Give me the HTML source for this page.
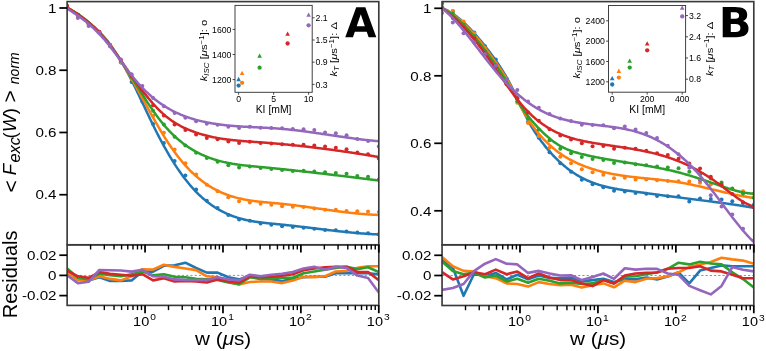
<!DOCTYPE html>
<html><head><meta charset="utf-8"><style>
html,body{margin:0;padding:0;background:#fff;}
svg{display:block;will-change:transform;}
text{font-family:"Liberation Sans", sans-serif;fill:#000;}
</style></head><body>
<svg width="766" height="351" viewBox="0 0 766 351">
<rect width="766" height="351" fill="#fff"/>
<clipPath id="cAm"><rect x="67.13" y="1.6" width="311.67" height="243.2"/></clipPath>
<clipPath id="cAr"><rect x="67.13" y="244.8" width="311.67" height="60.6"/></clipPath>
<g clip-path="url(#cAm)">
<circle cx="67.13" cy="6.64" r="2" fill="#1f77b4"/>
<circle cx="77.88" cy="15.85" r="2" fill="#1f77b4"/>
<circle cx="88.62" cy="24.04" r="2" fill="#1f77b4"/>
<circle cx="99.37" cy="32.57" r="2" fill="#1f77b4"/>
<circle cx="110.12" cy="46.22" r="2" fill="#1f77b4"/>
<circle cx="120.87" cy="62.47" r="2" fill="#1f77b4"/>
<circle cx="131.61" cy="81.94" r="2" fill="#1f77b4"/>
<circle cx="142.36" cy="101.41" r="2" fill="#1f77b4"/>
<circle cx="153.11" cy="123.97" r="2" fill="#1f77b4"/>
<circle cx="163.86" cy="142.93" r="2" fill="#1f77b4"/>
<circle cx="174.6" cy="160.88" r="2" fill="#1f77b4"/>
<circle cx="185.35" cy="175.41" r="2" fill="#1f77b4"/>
<circle cx="196.1" cy="189.51" r="2" fill="#1f77b4"/>
<circle cx="206.84" cy="200.68" r="2" fill="#1f77b4"/>
<circle cx="217.59" cy="208.08" r="2" fill="#1f77b4"/>
<circle cx="228.34" cy="214.95" r="2" fill="#1f77b4"/>
<circle cx="239.09" cy="219.4" r="2" fill="#1f77b4"/>
<circle cx="249.83" cy="220.85" r="2" fill="#1f77b4"/>
<circle cx="260.58" cy="223.49" r="2" fill="#1f77b4"/>
<circle cx="271.33" cy="224.82" r="2" fill="#1f77b4"/>
<circle cx="282.07" cy="226.36" r="2" fill="#1f77b4"/>
<circle cx="292.82" cy="226.89" r="2" fill="#1f77b4"/>
<circle cx="303.57" cy="227.63" r="2" fill="#1f77b4"/>
<circle cx="314.32" cy="228.75" r="2" fill="#1f77b4"/>
<circle cx="325.06" cy="230.06" r="2" fill="#1f77b4"/>
<circle cx="335.81" cy="230.24" r="2" fill="#1f77b4"/>
<circle cx="346.56" cy="231.39" r="2" fill="#1f77b4"/>
<circle cx="357.31" cy="232.4" r="2" fill="#1f77b4"/>
<circle cx="368.05" cy="233.21" r="2" fill="#1f77b4"/>
<circle cx="378.8" cy="234.14" r="2" fill="#1f77b4"/>
<path d="M67.13 7.5 L68.13 8.2 L69.13 8.88 L70.13 9.56 L71.13 10.24 L72.13 10.91 L73.13 11.58 L74.13 12.25 L75.13 12.92 L76.13 13.59 L77.13 14.27 L78.13 14.94 L79.13 15.62 L80.13 16.31 L81.13 17 L82.13 17.7 L83.13 18.41 L84.13 19.13 L85.13 19.86 L86.13 20.6 L87.13 21.35 L88.13 22.12 L89.13 22.9 L90.13 23.69 L91.13 24.51 L92.13 25.34 L93.13 26.19 L94.13 27.06 L95.13 27.95 L96.13 28.86 L97.13 29.8 L98.13 30.76 L99.13 31.74 L100.13 32.75 L101.13 33.79 L102.13 34.85 L103.13 35.95 L104.13 37.07 L105.13 38.23 L106.13 39.42 L107.13 40.64 L108.13 41.9 L109.13 43.19 L110.13 44.51 L111.13 45.87 L112.13 47.26 L113.13 48.68 L114.13 50.13 L115.13 51.62 L116.13 53.14 L117.13 54.69 L118.13 56.27 L119.13 57.88 L120.13 59.52 L121.13 61.19 L122.13 62.89 L123.13 64.61 L124.13 66.37 L125.13 68.16 L126.13 69.97 L127.13 71.81 L128.13 73.68 L129.13 75.58 L130.13 77.5 L131.13 79.45 L132.13 81.43 L133.13 83.42 L134.13 85.44 L135.13 87.47 L136.13 89.53 L137.13 91.59 L138.13 93.68 L139.13 95.77 L140.13 97.87 L141.13 99.98 L142.13 102.09 L143.13 104.21 L144.13 106.33 L145.13 108.45 L146.13 110.57 L147.13 112.68 L148.13 114.79 L149.13 116.89 L150.13 118.98 L151.13 121.06 L152.13 123.13 L153.13 125.18 L154.13 127.22 L155.13 129.23 L156.13 131.23 L157.13 133.2 L158.13 135.16 L159.13 137.08 L160.13 138.99 L161.13 140.87 L162.13 142.73 L163.13 144.57 L164.13 146.39 L165.13 148.18 L166.13 149.95 L167.13 151.69 L168.13 153.42 L169.13 155.12 L170.13 156.79 L171.13 158.44 L172.13 160.07 L173.13 161.68 L174.13 163.26 L175.13 164.81 L176.13 166.35 L177.13 167.85 L178.13 169.34 L179.13 170.8 L180.13 172.23 L181.13 173.65 L182.13 175.03 L183.13 176.39 L184.13 177.73 L185.13 179.04 L186.13 180.33 L187.13 181.59 L188.13 182.83 L189.13 184.04 L190.13 185.23 L191.13 186.39 L192.13 187.53 L193.13 188.64 L194.13 189.73 L195.13 190.79 L196.13 191.83 L197.13 192.84 L198.13 193.84 L199.13 194.81 L200.13 195.75 L201.13 196.68 L202.13 197.58 L203.13 198.46 L204.13 199.32 L205.13 200.16 L206.13 200.98 L207.13 201.77 L208.13 202.55 L209.13 203.3 L210.13 204.04 L211.13 204.76 L212.13 205.46 L213.13 206.14 L214.13 206.8 L215.13 207.44 L216.13 208.07 L217.13 208.67 L218.13 209.26 L219.13 209.84 L220.13 210.39 L221.13 210.93 L222.13 211.46 L223.13 211.96 L224.13 212.46 L225.13 212.93 L226.13 213.39 L227.13 213.84 L228.13 214.28 L229.13 214.69 L230.13 215.1 L231.13 215.49 L232.13 215.87 L233.13 216.24 L234.13 216.59 L235.13 216.93 L236.13 217.26 L237.13 217.58 L238.13 217.89 L239.13 218.18 L240.13 218.47 L241.13 218.74 L242.13 219 L243.13 219.26 L244.13 219.5 L245.13 219.74 L246.13 219.96 L247.13 220.18 L248.13 220.39 L249.13 220.59 L250.13 220.78 L251.13 220.97 L252.13 221.15 L253.13 221.32 L254.13 221.49 L255.13 221.64 L256.13 221.8 L257.13 221.94 L258.13 222.09 L259.13 222.22 L260.13 222.35 L261.13 222.48 L262.13 222.6 L263.13 222.72 L264.13 222.84 L265.13 222.95 L266.13 223.06 L267.13 223.17 L268.13 223.27 L269.13 223.37 L270.13 223.47 L271.13 223.57 L272.13 223.67 L273.13 223.76 L274.13 223.86 L275.13 223.95 L276.13 224.05 L277.13 224.14 L278.13 224.24 L279.13 224.34 L280.13 224.44 L281.13 224.53 L282.13 224.64 L283.13 224.74 L284.13 224.84 L285.13 224.94 L286.13 225.05 L287.13 225.16 L288.13 225.26 L289.13 225.37 L290.13 225.48 L291.13 225.59 L292.13 225.71 L293.13 225.82 L294.13 225.93 L295.13 226.05 L296.13 226.16 L297.13 226.28 L298.13 226.4 L299.13 226.51 L300.13 226.63 L301.13 226.75 L302.13 226.87 L303.13 226.99 L304.13 227.11 L305.13 227.23 L306.13 227.35 L307.13 227.47 L308.13 227.59 L309.13 227.71 L310.13 227.84 L311.13 227.96 L312.13 228.08 L313.13 228.2 L314.13 228.32 L315.13 228.45 L316.13 228.57 L317.13 228.69 L318.13 228.81 L319.13 228.94 L320.13 229.06 L321.13 229.18 L322.13 229.3 L323.13 229.42 L324.13 229.54 L325.13 229.66 L326.13 229.78 L327.13 229.9 L328.13 230.02 L329.13 230.14 L330.13 230.26 L331.13 230.37 L332.13 230.49 L333.13 230.61 L334.13 230.72 L335.13 230.84 L336.13 230.95 L337.13 231.06 L338.13 231.17 L339.13 231.28 L340.13 231.39 L341.13 231.5 L342.13 231.61 L343.13 231.72 L344.13 231.82 L345.13 231.93 L346.13 232.03 L347.13 232.13 L348.13 232.23 L349.13 232.33 L350.13 232.43 L351.13 232.52 L352.13 232.62 L353.13 232.71 L354.13 232.8 L355.13 232.89 L356.13 232.98 L357.13 233.07 L358.13 233.15 L359.13 233.23 L360.13 233.32 L361.13 233.4 L362.13 233.47 L363.13 233.55 L364.13 233.62 L365.13 233.69 L366.13 233.76 L367.13 233.83 L368.13 233.9 L369.13 233.96 L370.13 234.02 L371.13 234.08 L372.13 234.14 L373.13 234.19 L374.13 234.24 L375.13 234.29 L376.13 234.34 L377.13 234.38 L378.13 234.43" fill="none" stroke="#1f77b4" stroke-width="2.5" stroke-linejoin="round" stroke-linecap="round"/>
<circle cx="67.13" cy="6.74" r="2" fill="#ff7f0e"/>
<circle cx="77.88" cy="15.85" r="2" fill="#ff7f0e"/>
<circle cx="88.62" cy="23.99" r="2" fill="#ff7f0e"/>
<circle cx="99.37" cy="32.66" r="2" fill="#ff7f0e"/>
<circle cx="110.12" cy="46.17" r="2" fill="#ff7f0e"/>
<circle cx="120.87" cy="62.37" r="2" fill="#ff7f0e"/>
<circle cx="131.61" cy="79.09" r="2" fill="#ff7f0e"/>
<circle cx="142.36" cy="96.23" r="2" fill="#ff7f0e"/>
<circle cx="153.11" cy="115.81" r="2" fill="#ff7f0e"/>
<circle cx="163.86" cy="132.75" r="2" fill="#ff7f0e"/>
<circle cx="174.6" cy="149.46" r="2" fill="#ff7f0e"/>
<circle cx="185.35" cy="163.31" r="2" fill="#ff7f0e"/>
<circle cx="196.1" cy="174.53" r="2" fill="#ff7f0e"/>
<circle cx="206.84" cy="184.75" r="2" fill="#ff7f0e"/>
<circle cx="217.59" cy="191.3" r="2" fill="#ff7f0e"/>
<circle cx="228.34" cy="197.25" r="2" fill="#ff7f0e"/>
<circle cx="239.09" cy="201.18" r="2" fill="#ff7f0e"/>
<circle cx="249.83" cy="202.46" r="2" fill="#ff7f0e"/>
<circle cx="260.58" cy="203.68" r="2" fill="#ff7f0e"/>
<circle cx="271.33" cy="204.71" r="2" fill="#ff7f0e"/>
<circle cx="282.07" cy="206.22" r="2" fill="#ff7f0e"/>
<circle cx="292.82" cy="206.68" r="2" fill="#ff7f0e"/>
<circle cx="303.57" cy="206.88" r="2" fill="#ff7f0e"/>
<circle cx="314.32" cy="208.57" r="2" fill="#ff7f0e"/>
<circle cx="325.06" cy="209.76" r="2" fill="#ff7f0e"/>
<circle cx="335.81" cy="209.8" r="2" fill="#ff7f0e"/>
<circle cx="346.56" cy="210.97" r="2" fill="#ff7f0e"/>
<circle cx="357.31" cy="211.21" r="2" fill="#ff7f0e"/>
<circle cx="368.05" cy="211.58" r="2" fill="#ff7f0e"/>
<circle cx="378.8" cy="212.12" r="2" fill="#ff7f0e"/>
<path d="M67.13 7.6 L68.13 8.22 L69.13 8.83 L70.13 9.45 L71.13 10.08 L72.13 10.71 L73.13 11.34 L74.13 11.99 L75.13 12.64 L76.13 13.29 L77.13 13.96 L78.13 14.63 L79.13 15.32 L80.13 16.02 L81.13 16.72 L82.13 17.44 L83.13 18.17 L84.13 18.92 L85.13 19.68 L86.13 20.45 L87.13 21.24 L88.13 22.04 L89.13 22.86 L90.13 23.7 L91.13 24.56 L92.13 25.43 L93.13 26.33 L94.13 27.24 L95.13 28.17 L96.13 29.13 L97.13 30.11 L98.13 31.11 L99.13 32.13 L100.13 33.18 L101.13 34.25 L102.13 35.35 L103.13 36.47 L104.13 37.62 L105.13 38.8 L106.13 40 L107.13 41.24 L108.13 42.5 L109.13 43.79 L110.13 45.11 L111.13 46.45 L112.13 47.83 L113.13 49.22 L114.13 50.65 L115.13 52.09 L116.13 53.56 L117.13 55.06 L118.13 56.57 L119.13 58.11 L120.13 59.67 L121.13 61.24 L122.13 62.84 L123.13 64.46 L124.13 66.09 L125.13 67.74 L126.13 69.41 L127.13 71.09 L128.13 72.79 L129.13 74.5 L130.13 76.23 L131.13 77.97 L132.13 79.72 L133.13 81.48 L134.13 83.26 L135.13 85.04 L136.13 86.83 L137.13 88.63 L138.13 90.44 L139.13 92.25 L140.13 94.07 L141.13 95.89 L142.13 97.72 L143.13 99.55 L144.13 101.37 L145.13 103.2 L146.13 105.02 L147.13 106.85 L148.13 108.66 L149.13 110.48 L150.13 112.29 L151.13 114.09 L152.13 115.89 L153.13 117.67 L154.13 119.45 L155.13 121.21 L156.13 122.97 L157.13 124.71 L158.13 126.44 L159.13 128.15 L160.13 129.85 L161.13 131.53 L162.13 133.19 L163.13 134.83 L164.13 136.46 L165.13 138.06 L166.13 139.64 L167.13 141.2 L168.13 142.73 L169.13 144.24 L170.13 145.73 L171.13 147.19 L172.13 148.63 L173.13 150.04 L174.13 151.43 L175.13 152.8 L176.13 154.15 L177.13 155.47 L178.13 156.76 L179.13 158.04 L180.13 159.29 L181.13 160.52 L182.13 161.72 L183.13 162.9 L184.13 164.06 L185.13 165.19 L186.13 166.31 L187.13 167.4 L188.13 168.46 L189.13 169.51 L190.13 170.53 L191.13 171.53 L192.13 172.5 L193.13 173.46 L194.13 174.39 L195.13 175.3 L196.13 176.19 L197.13 177.06 L198.13 177.91 L199.13 178.74 L200.13 179.55 L201.13 180.33 L202.13 181.1 L203.13 181.85 L204.13 182.58 L205.13 183.3 L206.13 183.99 L207.13 184.66 L208.13 185.32 L209.13 185.96 L210.13 186.58 L211.13 187.19 L212.13 187.78 L213.13 188.35 L214.13 188.91 L215.13 189.45 L216.13 189.97 L217.13 190.48 L218.13 190.97 L219.13 191.45 L220.13 191.92 L221.13 192.37 L222.13 192.81 L223.13 193.23 L224.13 193.64 L225.13 194.03 L226.13 194.42 L227.13 194.79 L228.13 195.15 L229.13 195.49 L230.13 195.83 L231.13 196.15 L232.13 196.46 L233.13 196.76 L234.13 197.05 L235.13 197.33 L236.13 197.6 L237.13 197.86 L238.13 198.11 L239.13 198.35 L240.13 198.58 L241.13 198.81 L242.13 199.02 L243.13 199.23 L244.13 199.43 L245.13 199.62 L246.13 199.8 L247.13 199.98 L248.13 200.15 L249.13 200.31 L250.13 200.47 L251.13 200.62 L252.13 200.77 L253.13 200.91 L254.13 201.04 L255.13 201.17 L256.13 201.3 L257.13 201.42 L258.13 201.53 L259.13 201.65 L260.13 201.76 L261.13 201.86 L262.13 201.97 L263.13 202.07 L264.13 202.17 L265.13 202.26 L266.13 202.36 L267.13 202.45 L268.13 202.54 L269.13 202.63 L270.13 202.72 L271.13 202.81 L272.13 202.9 L273.13 202.99 L274.13 203.08 L275.13 203.17 L276.13 203.27 L277.13 203.36 L278.13 203.45 L279.13 203.55 L280.13 203.65 L281.13 203.75 L282.13 203.85 L283.13 203.96 L284.13 204.06 L285.13 204.17 L286.13 204.28 L287.13 204.4 L288.13 204.51 L289.13 204.63 L290.13 204.75 L291.13 204.87 L292.13 204.99 L293.13 205.11 L294.13 205.24 L295.13 205.36 L296.13 205.49 L297.13 205.62 L298.13 205.75 L299.13 205.88 L300.13 206.01 L301.13 206.15 L302.13 206.28 L303.13 206.42 L304.13 206.55 L305.13 206.69 L306.13 206.83 L307.13 206.97 L308.13 207.11 L309.13 207.25 L310.13 207.39 L311.13 207.53 L312.13 207.67 L313.13 207.81 L314.13 207.96 L315.13 208.1 L316.13 208.24 L317.13 208.38 L318.13 208.53 L319.13 208.67 L320.13 208.81 L321.13 208.96 L322.13 209.1 L323.13 209.24 L324.13 209.38 L325.13 209.52 L326.13 209.67 L327.13 209.81 L328.13 209.95 L329.13 210.09 L330.13 210.23 L331.13 210.36 L332.13 210.5 L333.13 210.64 L334.13 210.77 L335.13 210.91 L336.13 211.04 L337.13 211.17 L338.13 211.31 L339.13 211.44 L340.13 211.56 L341.13 211.69 L342.13 211.82 L343.13 211.94 L344.13 212.07 L345.13 212.19 L346.13 212.31 L347.13 212.43 L348.13 212.54 L349.13 212.66 L350.13 212.77 L351.13 212.88 L352.13 212.99 L353.13 213.1 L354.13 213.2 L355.13 213.31 L356.13 213.41 L357.13 213.51 L358.13 213.6 L359.13 213.7 L360.13 213.79 L361.13 213.88 L362.13 213.96 L363.13 214.04 L364.13 214.12 L365.13 214.2 L366.13 214.28 L367.13 214.35 L368.13 214.42 L369.13 214.49 L370.13 214.55 L371.13 214.61 L372.13 214.67 L373.13 214.72 L374.13 214.77 L375.13 214.82 L376.13 214.86 L377.13 214.9 L378.13 214.94" fill="none" stroke="#ff7f0e" stroke-width="2.5" stroke-linejoin="round" stroke-linecap="round"/>
<circle cx="67.13" cy="5.76" r="2" fill="#2ca02c"/>
<circle cx="77.88" cy="14.71" r="2" fill="#2ca02c"/>
<circle cx="88.62" cy="23.4" r="2" fill="#2ca02c"/>
<circle cx="99.37" cy="32.12" r="2" fill="#2ca02c"/>
<circle cx="110.12" cy="45.51" r="2" fill="#2ca02c"/>
<circle cx="120.87" cy="61.02" r="2" fill="#2ca02c"/>
<circle cx="131.61" cy="77.03" r="2" fill="#2ca02c"/>
<circle cx="142.36" cy="93.22" r="2" fill="#2ca02c"/>
<circle cx="153.11" cy="110.63" r="2" fill="#2ca02c"/>
<circle cx="163.86" cy="124.51" r="2" fill="#2ca02c"/>
<circle cx="174.6" cy="136.65" r="2" fill="#2ca02c"/>
<circle cx="185.35" cy="145.6" r="2" fill="#2ca02c"/>
<circle cx="196.1" cy="152.83" r="2" fill="#2ca02c"/>
<circle cx="206.84" cy="158.03" r="2" fill="#2ca02c"/>
<circle cx="217.59" cy="161.84" r="2" fill="#2ca02c"/>
<circle cx="228.34" cy="165.19" r="2" fill="#2ca02c"/>
<circle cx="239.09" cy="167.44" r="2" fill="#2ca02c"/>
<circle cx="249.83" cy="166.58" r="2" fill="#2ca02c"/>
<circle cx="260.58" cy="168.1" r="2" fill="#2ca02c"/>
<circle cx="271.33" cy="168.98" r="2" fill="#2ca02c"/>
<circle cx="282.07" cy="169.89" r="2" fill="#2ca02c"/>
<circle cx="292.82" cy="171.03" r="2" fill="#2ca02c"/>
<circle cx="303.57" cy="170.8" r="2" fill="#2ca02c"/>
<circle cx="314.32" cy="171.49" r="2" fill="#2ca02c"/>
<circle cx="325.06" cy="172.19" r="2" fill="#2ca02c"/>
<circle cx="335.81" cy="172.91" r="2" fill="#2ca02c"/>
<circle cx="346.56" cy="173.84" r="2" fill="#2ca02c"/>
<circle cx="357.31" cy="175.89" r="2" fill="#2ca02c"/>
<circle cx="368.05" cy="176.66" r="2" fill="#2ca02c"/>
<circle cx="378.8" cy="179.43" r="2" fill="#2ca02c"/>
<path d="M67.13 7.92 L68.13 8.39 L69.13 8.89 L70.13 9.4 L71.13 9.93 L72.13 10.48 L73.13 11.04 L74.13 11.63 L75.13 12.23 L76.13 12.85 L77.13 13.49 L78.13 14.14 L79.13 14.82 L80.13 15.51 L81.13 16.22 L82.13 16.95 L83.13 17.7 L84.13 18.47 L85.13 19.26 L86.13 20.07 L87.13 20.89 L88.13 21.74 L89.13 22.61 L90.13 23.49 L91.13 24.4 L92.13 25.33 L93.13 26.27 L94.13 27.24 L95.13 28.23 L96.13 29.24 L97.13 30.26 L98.13 31.31 L99.13 32.39 L100.13 33.48 L101.13 34.59 L102.13 35.73 L103.13 36.88 L104.13 38.06 L105.13 39.26 L106.13 40.48 L107.13 41.72 L108.13 42.99 L109.13 44.28 L110.13 45.58 L111.13 46.91 L112.13 48.26 L113.13 49.62 L114.13 51.01 L115.13 52.41 L116.13 53.82 L117.13 55.26 L118.13 56.71 L119.13 58.17 L120.13 59.65 L121.13 61.14 L122.13 62.64 L123.13 64.16 L124.13 65.69 L125.13 67.23 L126.13 68.77 L127.13 70.33 L128.13 71.9 L129.13 73.47 L130.13 75.05 L131.13 76.63 L132.13 78.22 L133.13 79.81 L134.13 81.4 L135.13 82.99 L136.13 84.59 L137.13 86.18 L138.13 87.77 L139.13 89.36 L140.13 90.94 L141.13 92.52 L142.13 94.09 L143.13 95.66 L144.13 97.22 L145.13 98.77 L146.13 100.31 L147.13 101.83 L148.13 103.35 L149.13 104.86 L150.13 106.35 L151.13 107.82 L152.13 109.28 L153.13 110.72 L154.13 112.15 L155.13 113.56 L156.13 114.94 L157.13 116.31 L158.13 117.65 L159.13 118.97 L160.13 120.27 L161.13 121.54 L162.13 122.79 L163.13 124.01 L164.13 125.2 L165.13 126.37 L166.13 127.52 L167.13 128.63 L168.13 129.72 L169.13 130.79 L170.13 131.84 L171.13 132.86 L172.13 133.85 L173.13 134.83 L174.13 135.78 L175.13 136.71 L176.13 137.61 L177.13 138.5 L178.13 139.36 L179.13 140.21 L180.13 141.03 L181.13 141.84 L182.13 142.62 L183.13 143.39 L184.13 144.13 L185.13 144.86 L186.13 145.57 L187.13 146.26 L188.13 146.94 L189.13 147.6 L190.13 148.24 L191.13 148.87 L192.13 149.48 L193.13 150.08 L194.13 150.66 L195.13 151.22 L196.13 151.77 L197.13 152.31 L198.13 152.83 L199.13 153.33 L200.13 153.83 L201.13 154.31 L202.13 154.77 L203.13 155.23 L204.13 155.67 L205.13 156.09 L206.13 156.51 L207.13 156.91 L208.13 157.3 L209.13 157.68 L210.13 158.05 L211.13 158.41 L212.13 158.75 L213.13 159.09 L214.13 159.41 L215.13 159.72 L216.13 160.03 L217.13 160.32 L218.13 160.6 L219.13 160.88 L220.13 161.14 L221.13 161.4 L222.13 161.65 L223.13 161.89 L224.13 162.12 L225.13 162.34 L226.13 162.56 L227.13 162.77 L228.13 162.97 L229.13 163.16 L230.13 163.35 L231.13 163.53 L232.13 163.7 L233.13 163.87 L234.13 164.03 L235.13 164.19 L236.13 164.34 L237.13 164.49 L238.13 164.63 L239.13 164.76 L240.13 164.9 L241.13 165.02 L242.13 165.15 L243.13 165.27 L244.13 165.38 L245.13 165.5 L246.13 165.61 L247.13 165.72 L248.13 165.82 L249.13 165.93 L250.13 166.03 L251.13 166.13 L252.13 166.22 L253.13 166.32 L254.13 166.41 L255.13 166.51 L256.13 166.6 L257.13 166.7 L258.13 166.79 L259.13 166.88 L260.13 166.98 L261.13 167.07 L262.13 167.16 L263.13 167.26 L264.13 167.35 L265.13 167.45 L266.13 167.55 L267.13 167.64 L268.13 167.74 L269.13 167.84 L270.13 167.94 L271.13 168.04 L272.13 168.14 L273.13 168.24 L274.13 168.34 L275.13 168.44 L276.13 168.54 L277.13 168.64 L278.13 168.74 L279.13 168.84 L280.13 168.95 L281.13 169.05 L282.13 169.16 L283.13 169.26 L284.13 169.36 L285.13 169.47 L286.13 169.57 L287.13 169.68 L288.13 169.79 L289.13 169.89 L290.13 170 L291.13 170.11 L292.13 170.22 L293.13 170.32 L294.13 170.43 L295.13 170.54 L296.13 170.65 L297.13 170.76 L298.13 170.87 L299.13 170.98 L300.13 171.09 L301.13 171.2 L302.13 171.31 L303.13 171.43 L304.13 171.54 L305.13 171.65 L306.13 171.76 L307.13 171.87 L308.13 171.99 L309.13 172.1 L310.13 172.22 L311.13 172.33 L312.13 172.44 L313.13 172.56 L314.13 172.67 L315.13 172.79 L316.13 172.9 L317.13 173.02 L318.13 173.14 L319.13 173.25 L320.13 173.37 L321.13 173.49 L322.13 173.6 L323.13 173.72 L324.13 173.84 L325.13 173.96 L326.13 174.07 L327.13 174.19 L328.13 174.31 L329.13 174.43 L330.13 174.55 L331.13 174.67 L332.13 174.78 L333.13 174.9 L334.13 175.02 L335.13 175.14 L336.13 175.26 L337.13 175.38 L338.13 175.5 L339.13 175.62 L340.13 175.74 L341.13 175.87 L342.13 175.99 L343.13 176.11 L344.13 176.23 L345.13 176.35 L346.13 176.47 L347.13 176.59 L348.13 176.71 L349.13 176.84 L350.13 176.96 L351.13 177.08 L352.13 177.2 L353.13 177.32 L354.13 177.45 L355.13 177.57 L356.13 177.69 L357.13 177.81 L358.13 177.94 L359.13 178.06 L360.13 178.18 L361.13 178.3 L362.13 178.43 L363.13 178.55 L364.13 178.67 L365.13 178.8 L366.13 178.92 L367.13 179.04 L368.13 179.17 L369.13 179.29 L370.13 179.41 L371.13 179.53 L372.13 179.66 L373.13 179.78 L374.13 179.9 L375.13 180.03 L376.13 180.15 L377.13 180.27 L378.13 180.4" fill="none" stroke="#2ca02c" stroke-width="2.5" stroke-linejoin="round" stroke-linecap="round"/>
<circle cx="67.13" cy="6.05" r="2" fill="#d62728"/>
<circle cx="77.88" cy="14.65" r="2" fill="#d62728"/>
<circle cx="88.62" cy="23.3" r="2" fill="#d62728"/>
<circle cx="99.37" cy="31.71" r="2" fill="#d62728"/>
<circle cx="110.12" cy="44.94" r="2" fill="#d62728"/>
<circle cx="120.87" cy="60.27" r="2" fill="#d62728"/>
<circle cx="131.61" cy="76.07" r="2" fill="#d62728"/>
<circle cx="142.36" cy="90.23" r="2" fill="#d62728"/>
<circle cx="153.11" cy="105.23" r="2" fill="#d62728"/>
<circle cx="163.86" cy="115.4" r="2" fill="#d62728"/>
<circle cx="174.6" cy="124.43" r="2" fill="#d62728"/>
<circle cx="185.35" cy="130.05" r="2" fill="#d62728"/>
<circle cx="196.1" cy="134.45" r="2" fill="#d62728"/>
<circle cx="206.84" cy="137.92" r="2" fill="#d62728"/>
<circle cx="217.59" cy="139.25" r="2" fill="#d62728"/>
<circle cx="228.34" cy="141.49" r="2" fill="#d62728"/>
<circle cx="239.09" cy="142.92" r="2" fill="#d62728"/>
<circle cx="249.83" cy="141.85" r="2" fill="#d62728"/>
<circle cx="260.58" cy="142.92" r="2" fill="#d62728"/>
<circle cx="271.33" cy="143.6" r="2" fill="#d62728"/>
<circle cx="282.07" cy="144.24" r="2" fill="#d62728"/>
<circle cx="292.82" cy="144.8" r="2" fill="#d62728"/>
<circle cx="303.57" cy="144.75" r="2" fill="#d62728"/>
<circle cx="314.32" cy="145.44" r="2" fill="#d62728"/>
<circle cx="325.06" cy="146.42" r="2" fill="#d62728"/>
<circle cx="335.81" cy="147.68" r="2" fill="#d62728"/>
<circle cx="346.56" cy="149.22" r="2" fill="#d62728"/>
<circle cx="357.31" cy="152.48" r="2" fill="#d62728"/>
<circle cx="368.05" cy="154.2" r="2" fill="#d62728"/>
<circle cx="378.8" cy="158.56" r="2" fill="#d62728"/>
<path d="M67.13 7.53 L68.13 8.13 L69.13 8.73 L70.13 9.34 L71.13 9.96 L72.13 10.58 L73.13 11.22 L74.13 11.86 L75.13 12.52 L76.13 13.18 L77.13 13.86 L78.13 14.54 L79.13 15.24 L80.13 15.95 L81.13 16.68 L82.13 17.42 L83.13 18.17 L84.13 18.93 L85.13 19.71 L86.13 20.51 L87.13 21.32 L88.13 22.15 L89.13 22.99 L90.13 23.85 L91.13 24.73 L92.13 25.63 L93.13 26.55 L94.13 27.49 L95.13 28.44 L96.13 29.42 L97.13 30.41 L98.13 31.43 L99.13 32.47 L100.13 33.54 L101.13 34.62 L102.13 35.73 L103.13 36.86 L104.13 38.02 L105.13 39.2 L106.13 40.41 L107.13 41.64 L108.13 42.9 L109.13 44.18 L110.13 45.48 L111.13 46.81 L112.13 48.15 L113.13 49.52 L114.13 50.9 L115.13 52.29 L116.13 53.7 L117.13 55.11 L118.13 56.54 L119.13 57.98 L120.13 59.42 L121.13 60.86 L122.13 62.31 L123.13 63.76 L124.13 65.21 L125.13 66.66 L126.13 68.11 L127.13 69.55 L128.13 70.99 L129.13 72.42 L130.13 73.84 L131.13 75.26 L132.13 76.68 L133.13 78.08 L134.13 79.48 L135.13 80.87 L136.13 82.25 L137.13 83.62 L138.13 84.98 L139.13 86.32 L140.13 87.66 L141.13 88.98 L142.13 90.3 L143.13 91.59 L144.13 92.88 L145.13 94.15 L146.13 95.4 L147.13 96.64 L148.13 97.87 L149.13 99.07 L150.13 100.26 L151.13 101.43 L152.13 102.58 L153.13 103.72 L154.13 104.83 L155.13 105.92 L156.13 106.99 L157.13 108.04 L158.13 109.07 L159.13 110.08 L160.13 111.06 L161.13 112.02 L162.13 112.95 L163.13 113.86 L164.13 114.74 L165.13 115.6 L166.13 116.43 L167.13 117.24 L168.13 118.02 L169.13 118.78 L170.13 119.52 L171.13 120.23 L172.13 120.92 L173.13 121.6 L174.13 122.25 L175.13 122.88 L176.13 123.49 L177.13 124.08 L178.13 124.66 L179.13 125.21 L180.13 125.76 L181.13 126.28 L182.13 126.79 L183.13 127.28 L184.13 127.76 L185.13 128.23 L186.13 128.68 L187.13 129.12 L188.13 129.54 L189.13 129.96 L190.13 130.37 L191.13 130.76 L192.13 131.14 L193.13 131.52 L194.13 131.88 L195.13 132.24 L196.13 132.58 L197.13 132.92 L198.13 133.25 L199.13 133.57 L200.13 133.87 L201.13 134.17 L202.13 134.47 L203.13 134.75 L204.13 135.03 L205.13 135.29 L206.13 135.55 L207.13 135.8 L208.13 136.05 L209.13 136.28 L210.13 136.51 L211.13 136.74 L212.13 136.95 L213.13 137.16 L214.13 137.36 L215.13 137.56 L216.13 137.75 L217.13 137.93 L218.13 138.11 L219.13 138.28 L220.13 138.44 L221.13 138.61 L222.13 138.76 L223.13 138.91 L224.13 139.05 L225.13 139.19 L226.13 139.33 L227.13 139.46 L228.13 139.59 L229.13 139.71 L230.13 139.83 L231.13 139.94 L232.13 140.05 L233.13 140.16 L234.13 140.26 L235.13 140.36 L236.13 140.46 L237.13 140.56 L238.13 140.65 L239.13 140.74 L240.13 140.82 L241.13 140.91 L242.13 140.99 L243.13 141.07 L244.13 141.15 L245.13 141.23 L246.13 141.3 L247.13 141.38 L248.13 141.45 L249.13 141.52 L250.13 141.6 L251.13 141.67 L252.13 141.74 L253.13 141.81 L254.13 141.88 L255.13 141.95 L256.13 142.02 L257.13 142.09 L258.13 142.16 L259.13 142.23 L260.13 142.3 L261.13 142.37 L262.13 142.45 L263.13 142.52 L264.13 142.6 L265.13 142.68 L266.13 142.75 L267.13 142.83 L268.13 142.91 L269.13 142.99 L270.13 143.07 L271.13 143.16 L272.13 143.24 L273.13 143.32 L274.13 143.41 L275.13 143.5 L276.13 143.58 L277.13 143.67 L278.13 143.76 L279.13 143.85 L280.13 143.94 L281.13 144.03 L282.13 144.12 L283.13 144.22 L284.13 144.31 L285.13 144.41 L286.13 144.5 L287.13 144.6 L288.13 144.7 L289.13 144.8 L290.13 144.9 L291.13 145 L292.13 145.1 L293.13 145.2 L294.13 145.3 L295.13 145.41 L296.13 145.51 L297.13 145.62 L298.13 145.72 L299.13 145.83 L300.13 145.94 L301.13 146.05 L302.13 146.16 L303.13 146.27 L304.13 146.38 L305.13 146.5 L306.13 146.61 L307.13 146.72 L308.13 146.84 L309.13 146.95 L310.13 147.07 L311.13 147.19 L312.13 147.31 L313.13 147.43 L314.13 147.55 L315.13 147.67 L316.13 147.79 L317.13 147.91 L318.13 148.04 L319.13 148.16 L320.13 148.29 L321.13 148.41 L322.13 148.54 L323.13 148.67 L324.13 148.8 L325.13 148.93 L326.13 149.06 L327.13 149.19 L328.13 149.32 L329.13 149.45 L330.13 149.59 L331.13 149.72 L332.13 149.86 L333.13 149.99 L334.13 150.13 L335.13 150.27 L336.13 150.41 L337.13 150.55 L338.13 150.69 L339.13 150.83 L340.13 150.97 L341.13 151.11 L342.13 151.26 L343.13 151.4 L344.13 151.55 L345.13 151.69 L346.13 151.84 L347.13 151.99 L348.13 152.13 L349.13 152.28 L350.13 152.43 L351.13 152.58 L352.13 152.73 L353.13 152.89 L354.13 153.04 L355.13 153.19 L356.13 153.35 L357.13 153.5 L358.13 153.66 L359.13 153.81 L360.13 153.97 L361.13 154.13 L362.13 154.29 L363.13 154.45 L364.13 154.61 L365.13 154.77 L366.13 154.93 L367.13 155.1 L368.13 155.26 L369.13 155.42 L370.13 155.59 L371.13 155.76 L372.13 155.92 L373.13 156.09 L374.13 156.26 L375.13 156.43 L376.13 156.6 L377.13 156.77 L378.13 156.94" fill="none" stroke="#d62728" stroke-width="2.5" stroke-linejoin="round" stroke-linecap="round"/>
<circle cx="67.13" cy="8.58" r="2" fill="#9467bd"/>
<circle cx="77.88" cy="18.02" r="2" fill="#9467bd"/>
<circle cx="88.62" cy="25.92" r="2" fill="#9467bd"/>
<circle cx="99.37" cy="32.41" r="2" fill="#9467bd"/>
<circle cx="110.12" cy="44.99" r="2" fill="#9467bd"/>
<circle cx="120.87" cy="59.5" r="2" fill="#9467bd"/>
<circle cx="131.61" cy="74.24" r="2" fill="#9467bd"/>
<circle cx="142.36" cy="86.06" r="2" fill="#9467bd"/>
<circle cx="153.11" cy="98.06" r="2" fill="#9467bd"/>
<circle cx="163.86" cy="106.13" r="2" fill="#9467bd"/>
<circle cx="174.6" cy="113.05" r="2" fill="#9467bd"/>
<circle cx="185.35" cy="117.83" r="2" fill="#9467bd"/>
<circle cx="196.1" cy="121.32" r="2" fill="#9467bd"/>
<circle cx="206.84" cy="123.78" r="2" fill="#9467bd"/>
<circle cx="217.59" cy="124.8" r="2" fill="#9467bd"/>
<circle cx="228.34" cy="126.72" r="2" fill="#9467bd"/>
<circle cx="239.09" cy="127.91" r="2" fill="#9467bd"/>
<circle cx="249.83" cy="126.78" r="2" fill="#9467bd"/>
<circle cx="260.58" cy="127.81" r="2" fill="#9467bd"/>
<circle cx="271.33" cy="127.9" r="2" fill="#9467bd"/>
<circle cx="282.07" cy="128.37" r="2" fill="#9467bd"/>
<circle cx="292.82" cy="128.92" r="2" fill="#9467bd"/>
<circle cx="303.57" cy="129.15" r="2" fill="#9467bd"/>
<circle cx="314.32" cy="130.07" r="2" fill="#9467bd"/>
<circle cx="325.06" cy="132.56" r="2" fill="#9467bd"/>
<circle cx="335.81" cy="133.24" r="2" fill="#9467bd"/>
<circle cx="346.56" cy="135.17" r="2" fill="#9467bd"/>
<circle cx="357.31" cy="138.99" r="2" fill="#9467bd"/>
<circle cx="368.05" cy="140.96" r="2" fill="#9467bd"/>
<circle cx="378.8" cy="146.5" r="2" fill="#9467bd"/>
<path d="M67.13 8.64 L68.13 9.25 L69.13 9.87 L70.13 10.5 L71.13 11.13 L72.13 11.78 L73.13 12.43 L74.13 13.09 L75.13 13.76 L76.13 14.44 L77.13 15.13 L78.13 15.83 L79.13 16.54 L80.13 17.27 L81.13 18 L82.13 18.75 L83.13 19.51 L84.13 20.29 L85.13 21.08 L86.13 21.88 L87.13 22.7 L88.13 23.53 L89.13 24.38 L90.13 25.24 L91.13 26.12 L92.13 27.02 L93.13 27.94 L94.13 28.87 L95.13 29.82 L96.13 30.79 L97.13 31.78 L98.13 32.79 L99.13 33.82 L100.13 34.87 L101.13 35.94 L102.13 37.03 L103.13 38.15 L104.13 39.28 L105.13 40.44 L106.13 41.62 L107.13 42.83 L108.13 44.05 L109.13 45.3 L110.13 46.58 L111.13 47.86 L112.13 49.17 L113.13 50.49 L114.13 51.82 L115.13 53.17 L116.13 54.52 L117.13 55.88 L118.13 57.25 L119.13 58.63 L120.13 60 L121.13 61.38 L122.13 62.75 L123.13 64.12 L124.13 65.49 L125.13 66.85 L126.13 68.21 L127.13 69.55 L128.13 70.88 L129.13 72.2 L130.13 73.5 L131.13 74.79 L132.13 76.06 L133.13 77.31 L134.13 78.53 L135.13 79.74 L136.13 80.92 L137.13 82.08 L138.13 83.21 L139.13 84.33 L140.13 85.42 L141.13 86.5 L142.13 87.55 L143.13 88.58 L144.13 89.59 L145.13 90.58 L146.13 91.55 L147.13 92.5 L148.13 93.43 L149.13 94.34 L150.13 95.24 L151.13 96.11 L152.13 96.97 L153.13 97.8 L154.13 98.62 L155.13 99.42 L156.13 100.21 L157.13 100.97 L158.13 101.72 L159.13 102.46 L160.13 103.17 L161.13 103.87 L162.13 104.55 L163.13 105.22 L164.13 105.87 L165.13 106.51 L166.13 107.13 L167.13 107.74 L168.13 108.33 L169.13 108.91 L170.13 109.47 L171.13 110.02 L172.13 110.55 L173.13 111.07 L174.13 111.58 L175.13 112.08 L176.13 112.56 L177.13 113.03 L178.13 113.48 L179.13 113.93 L180.13 114.36 L181.13 114.78 L182.13 115.19 L183.13 115.59 L184.13 115.98 L185.13 116.36 L186.13 116.73 L187.13 117.08 L188.13 117.43 L189.13 117.77 L190.13 118.1 L191.13 118.42 L192.13 118.73 L193.13 119.03 L194.13 119.32 L195.13 119.6 L196.13 119.88 L197.13 120.15 L198.13 120.41 L199.13 120.66 L200.13 120.91 L201.13 121.15 L202.13 121.38 L203.13 121.61 L204.13 121.83 L205.13 122.04 L206.13 122.25 L207.13 122.45 L208.13 122.64 L209.13 122.83 L210.13 123.02 L211.13 123.2 L212.13 123.37 L213.13 123.53 L214.13 123.7 L215.13 123.85 L216.13 124 L217.13 124.15 L218.13 124.29 L219.13 124.43 L220.13 124.56 L221.13 124.69 L222.13 124.81 L223.13 124.93 L224.13 125.05 L225.13 125.16 L226.13 125.27 L227.13 125.37 L228.13 125.47 L229.13 125.57 L230.13 125.66 L231.13 125.75 L232.13 125.84 L233.13 125.92 L234.13 126.01 L235.13 126.08 L236.13 126.16 L237.13 126.23 L238.13 126.3 L239.13 126.37 L240.13 126.44 L241.13 126.5 L242.13 126.57 L243.13 126.63 L244.13 126.69 L245.13 126.75 L246.13 126.8 L247.13 126.86 L248.13 126.91 L249.13 126.96 L250.13 127.02 L251.13 127.07 L252.13 127.12 L253.13 127.17 L254.13 127.22 L255.13 127.26 L256.13 127.31 L257.13 127.36 L258.13 127.41 L259.13 127.46 L260.13 127.51 L261.13 127.56 L262.13 127.61 L263.13 127.66 L264.13 127.71 L265.13 127.76 L266.13 127.82 L267.13 127.87 L268.13 127.93 L269.13 127.98 L270.13 128.04 L271.13 128.1 L272.13 128.16 L273.13 128.23 L274.13 128.29 L275.13 128.36 L276.13 128.43 L277.13 128.5 L278.13 128.57 L279.13 128.65 L280.13 128.73 L281.13 128.81 L282.13 128.9 L283.13 128.99 L284.13 129.08 L285.13 129.17 L286.13 129.27 L287.13 129.36 L288.13 129.46 L289.13 129.57 L290.13 129.67 L291.13 129.78 L292.13 129.89 L293.13 130 L294.13 130.11 L295.13 130.23 L296.13 130.34 L297.13 130.46 L298.13 130.58 L299.13 130.71 L300.13 130.83 L301.13 130.96 L302.13 131.09 L303.13 131.21 L304.13 131.35 L305.13 131.48 L306.13 131.61 L307.13 131.75 L308.13 131.88 L309.13 132.02 L310.13 132.16 L311.13 132.3 L312.13 132.44 L313.13 132.58 L314.13 132.72 L315.13 132.86 L316.13 133.01 L317.13 133.15 L318.13 133.3 L319.13 133.44 L320.13 133.59 L321.13 133.74 L322.13 133.89 L323.13 134.03 L324.13 134.18 L325.13 134.33 L326.13 134.48 L327.13 134.63 L328.13 134.78 L329.13 134.93 L330.13 135.08 L331.13 135.22 L332.13 135.37 L333.13 135.52 L334.13 135.67 L335.13 135.82 L336.13 135.97 L337.13 136.12 L338.13 136.26 L339.13 136.41 L340.13 136.56 L341.13 136.7 L342.13 136.85 L343.13 136.99 L344.13 137.13 L345.13 137.28 L346.13 137.42 L347.13 137.56 L348.13 137.7 L349.13 137.84 L350.13 137.98 L351.13 138.11 L352.13 138.25 L353.13 138.38 L354.13 138.51 L355.13 138.64 L356.13 138.77 L357.13 138.9 L358.13 139.03 L359.13 139.15 L360.13 139.28 L361.13 139.4 L362.13 139.52 L363.13 139.64 L364.13 139.75 L365.13 139.87 L366.13 139.98 L367.13 140.09 L368.13 140.2 L369.13 140.3 L370.13 140.41 L371.13 140.51 L372.13 140.61 L373.13 140.7 L374.13 140.8 L375.13 140.89 L376.13 140.98 L377.13 141.06 L378.13 141.15" fill="none" stroke="#9467bd" stroke-width="2.5" stroke-linejoin="round" stroke-linecap="round"/>
</g>
<g clip-path="url(#cAr)">
<line x1="67.13" y1="275.4" x2="378.8" y2="275.4" stroke="#808080" stroke-width="0.85" stroke-dasharray="2.2 2.05"/>
<path d="M67.13 272.6 L77.88 278.9 L88.62 280.4 L99.37 277.3 L110.12 281 L120.87 281 L131.61 280.4 L142.36 271.6 L153.11 271.6 L163.86 265.8 L174.6 265.3 L185.35 262.7 L196.1 268 L206.84 272.6 L217.59 272.6 L228.34 277.3 L239.09 279.4 L249.83 275.8 L260.58 278.9 L271.33 279.4 L282.07 281 L292.82 279 L303.57 277.3 L314.32 276.7 L325.06 276.7 L335.81 273.2 L346.56 273.2 L357.31 273.2 L368.05 273.2 L378.8 274.4" fill="none" stroke="#1f77b4" stroke-width="2.6" stroke-linejoin="round"/>
<path d="M67.13 272.6 L77.88 279.9 L88.62 280.4 L99.37 276.3 L110.12 278.9 L120.87 280.4 L131.61 276.3 L142.36 269.2 L153.11 269.5 L163.86 264.8 L174.6 266.9 L185.35 268.5 L196.1 270.1 L206.84 276.3 L217.59 277.3 L228.34 282 L239.09 284.6 L249.83 282 L260.58 281.5 L271.33 281.5 L282.07 283.1 L292.82 280.6 L303.57 276.7 L314.32 277.3 L325.06 276.2 L335.81 271.5 L346.56 270.9 L357.31 267.9 L368.05 266.2 L378.8 266.2" fill="none" stroke="#ff7f0e" stroke-width="2.6" stroke-linejoin="round"/>
<path d="M67.13 268.4 L77.88 277.8 L88.62 279.4 L99.37 273.7 L110.12 275.2 L120.87 276.3 L131.61 274.2 L142.36 271.4 L153.11 275.2 L163.86 274.2 L174.6 276.8 L185.35 277.3 L196.1 278.9 L206.84 279.4 L217.59 279.9 L228.34 282.5 L239.09 284.1 L249.83 277.3 L260.58 278.9 L271.33 278.4 L282.07 277.8 L292.82 277.8 L303.57 273.2 L314.32 271.5 L325.06 269.7 L335.81 267.9 L346.56 266.7 L357.31 269.1 L368.05 267.3 L378.8 272" fill="none" stroke="#2ca02c" stroke-width="2.6" stroke-linejoin="round"/>
<path d="M67.13 270.6 L77.88 276.3 L88.62 277.8 L99.37 272.1 L110.12 273.7 L120.87 274.7 L131.61 275.8 L142.36 274.2 L153.11 280.4 L163.86 278.3 L174.6 281.5 L185.35 281 L196.1 281.5 L206.84 282.5 L217.59 279.4 L228.34 281.5 L239.09 282.5 L249.83 276.3 L260.58 277.3 L271.33 276.8 L282.07 275.8 L292.82 274.2 L303.57 270.3 L314.32 268.5 L325.06 267.3 L335.81 266.7 L346.56 266.7 L357.31 272 L368.05 272 L378.8 280.3" fill="none" stroke="#d62728" stroke-width="2.6" stroke-linejoin="round"/>
<path d="M67.13 275.2 L77.88 283.1 L88.62 281.8 L99.37 270 L110.12 270.3 L120.87 270.5 L131.61 271.6 L142.36 269.8 L153.11 276.3 L163.86 276.8 L174.6 279.4 L185.35 279.9 L196.1 280.1 L206.84 279.9 L217.59 277.3 L228.34 279.4 L239.09 280.4 L249.83 274.7 L260.58 276.3 L271.33 274.7 L282.07 273.7 L292.82 272 L303.57 268.5 L314.32 266.7 L325.06 269.7 L335.81 266.7 L346.56 267.9 L357.31 275.6 L368.05 277.9 L378.8 292.6" fill="none" stroke="#9467bd" stroke-width="2.6" stroke-linejoin="round"/>
</g>
<rect x="67.13" y="1.6" width="311.67" height="243.2" fill="none" stroke="#3a3a3a" stroke-width="1.65"/>
<rect x="67.13" y="244.8" width="311.67" height="60.6" fill="none" stroke="#3a3a3a" stroke-width="1.65"/>
<line x1="90.59" y1="244.8" x2="90.59" y2="249.5" stroke="#000" stroke-width="1.4"/>
<line x1="104.31" y1="244.8" x2="104.31" y2="249.5" stroke="#000" stroke-width="1.4"/>
<line x1="114.04" y1="244.8" x2="114.04" y2="249.5" stroke="#000" stroke-width="1.4"/>
<line x1="121.59" y1="244.8" x2="121.59" y2="249.5" stroke="#000" stroke-width="1.4"/>
<line x1="127.76" y1="244.8" x2="127.76" y2="249.5" stroke="#000" stroke-width="1.4"/>
<line x1="132.98" y1="244.8" x2="132.98" y2="249.5" stroke="#000" stroke-width="1.4"/>
<line x1="137.5" y1="244.8" x2="137.5" y2="249.5" stroke="#000" stroke-width="1.4"/>
<line x1="141.48" y1="244.8" x2="141.48" y2="249.5" stroke="#000" stroke-width="1.4"/>
<line x1="145.05" y1="244.8" x2="145.05" y2="252.6" stroke="#000" stroke-width="1.75"/>
<line x1="168.5" y1="244.8" x2="168.5" y2="249.5" stroke="#000" stroke-width="1.4"/>
<line x1="182.22" y1="244.8" x2="182.22" y2="249.5" stroke="#000" stroke-width="1.4"/>
<line x1="191.96" y1="244.8" x2="191.96" y2="249.5" stroke="#000" stroke-width="1.4"/>
<line x1="199.51" y1="244.8" x2="199.51" y2="249.5" stroke="#000" stroke-width="1.4"/>
<line x1="205.68" y1="244.8" x2="205.68" y2="249.5" stroke="#000" stroke-width="1.4"/>
<line x1="210.9" y1="244.8" x2="210.9" y2="249.5" stroke="#000" stroke-width="1.4"/>
<line x1="215.41" y1="244.8" x2="215.41" y2="249.5" stroke="#000" stroke-width="1.4"/>
<line x1="219.4" y1="244.8" x2="219.4" y2="249.5" stroke="#000" stroke-width="1.4"/>
<line x1="222.97" y1="244.8" x2="222.97" y2="252.6" stroke="#000" stroke-width="1.75"/>
<line x1="246.42" y1="244.8" x2="246.42" y2="249.5" stroke="#000" stroke-width="1.4"/>
<line x1="260.14" y1="244.8" x2="260.14" y2="249.5" stroke="#000" stroke-width="1.4"/>
<line x1="269.88" y1="244.8" x2="269.88" y2="249.5" stroke="#000" stroke-width="1.4"/>
<line x1="277.43" y1="244.8" x2="277.43" y2="249.5" stroke="#000" stroke-width="1.4"/>
<line x1="283.6" y1="244.8" x2="283.6" y2="249.5" stroke="#000" stroke-width="1.4"/>
<line x1="288.81" y1="244.8" x2="288.81" y2="249.5" stroke="#000" stroke-width="1.4"/>
<line x1="293.33" y1="244.8" x2="293.33" y2="249.5" stroke="#000" stroke-width="1.4"/>
<line x1="297.32" y1="244.8" x2="297.32" y2="249.5" stroke="#000" stroke-width="1.4"/>
<line x1="300.88" y1="244.8" x2="300.88" y2="252.6" stroke="#000" stroke-width="1.75"/>
<line x1="324.34" y1="244.8" x2="324.34" y2="249.5" stroke="#000" stroke-width="1.4"/>
<line x1="338.06" y1="244.8" x2="338.06" y2="249.5" stroke="#000" stroke-width="1.4"/>
<line x1="347.79" y1="244.8" x2="347.79" y2="249.5" stroke="#000" stroke-width="1.4"/>
<line x1="355.34" y1="244.8" x2="355.34" y2="249.5" stroke="#000" stroke-width="1.4"/>
<line x1="361.51" y1="244.8" x2="361.51" y2="249.5" stroke="#000" stroke-width="1.4"/>
<line x1="366.73" y1="244.8" x2="366.73" y2="249.5" stroke="#000" stroke-width="1.4"/>
<line x1="371.25" y1="244.8" x2="371.25" y2="249.5" stroke="#000" stroke-width="1.4"/>
<line x1="375.23" y1="244.8" x2="375.23" y2="249.5" stroke="#000" stroke-width="1.4"/>
<line x1="378.8" y1="244.8" x2="378.8" y2="252.6" stroke="#000" stroke-width="1.75"/>
<line x1="90.59" y1="305.4" x2="90.59" y2="310.1" stroke="#000" stroke-width="1.4"/>
<line x1="104.31" y1="305.4" x2="104.31" y2="310.1" stroke="#000" stroke-width="1.4"/>
<line x1="114.04" y1="305.4" x2="114.04" y2="310.1" stroke="#000" stroke-width="1.4"/>
<line x1="121.59" y1="305.4" x2="121.59" y2="310.1" stroke="#000" stroke-width="1.4"/>
<line x1="127.76" y1="305.4" x2="127.76" y2="310.1" stroke="#000" stroke-width="1.4"/>
<line x1="132.98" y1="305.4" x2="132.98" y2="310.1" stroke="#000" stroke-width="1.4"/>
<line x1="137.5" y1="305.4" x2="137.5" y2="310.1" stroke="#000" stroke-width="1.4"/>
<line x1="141.48" y1="305.4" x2="141.48" y2="310.1" stroke="#000" stroke-width="1.4"/>
<line x1="145.05" y1="305.4" x2="145.05" y2="313.2" stroke="#000" stroke-width="1.75"/>
<line x1="168.5" y1="305.4" x2="168.5" y2="310.1" stroke="#000" stroke-width="1.4"/>
<line x1="182.22" y1="305.4" x2="182.22" y2="310.1" stroke="#000" stroke-width="1.4"/>
<line x1="191.96" y1="305.4" x2="191.96" y2="310.1" stroke="#000" stroke-width="1.4"/>
<line x1="199.51" y1="305.4" x2="199.51" y2="310.1" stroke="#000" stroke-width="1.4"/>
<line x1="205.68" y1="305.4" x2="205.68" y2="310.1" stroke="#000" stroke-width="1.4"/>
<line x1="210.9" y1="305.4" x2="210.9" y2="310.1" stroke="#000" stroke-width="1.4"/>
<line x1="215.41" y1="305.4" x2="215.41" y2="310.1" stroke="#000" stroke-width="1.4"/>
<line x1="219.4" y1="305.4" x2="219.4" y2="310.1" stroke="#000" stroke-width="1.4"/>
<line x1="222.97" y1="305.4" x2="222.97" y2="313.2" stroke="#000" stroke-width="1.75"/>
<line x1="246.42" y1="305.4" x2="246.42" y2="310.1" stroke="#000" stroke-width="1.4"/>
<line x1="260.14" y1="305.4" x2="260.14" y2="310.1" stroke="#000" stroke-width="1.4"/>
<line x1="269.88" y1="305.4" x2="269.88" y2="310.1" stroke="#000" stroke-width="1.4"/>
<line x1="277.43" y1="305.4" x2="277.43" y2="310.1" stroke="#000" stroke-width="1.4"/>
<line x1="283.6" y1="305.4" x2="283.6" y2="310.1" stroke="#000" stroke-width="1.4"/>
<line x1="288.81" y1="305.4" x2="288.81" y2="310.1" stroke="#000" stroke-width="1.4"/>
<line x1="293.33" y1="305.4" x2="293.33" y2="310.1" stroke="#000" stroke-width="1.4"/>
<line x1="297.32" y1="305.4" x2="297.32" y2="310.1" stroke="#000" stroke-width="1.4"/>
<line x1="300.88" y1="305.4" x2="300.88" y2="313.2" stroke="#000" stroke-width="1.75"/>
<line x1="324.34" y1="305.4" x2="324.34" y2="310.1" stroke="#000" stroke-width="1.4"/>
<line x1="338.06" y1="305.4" x2="338.06" y2="310.1" stroke="#000" stroke-width="1.4"/>
<line x1="347.79" y1="305.4" x2="347.79" y2="310.1" stroke="#000" stroke-width="1.4"/>
<line x1="355.34" y1="305.4" x2="355.34" y2="310.1" stroke="#000" stroke-width="1.4"/>
<line x1="361.51" y1="305.4" x2="361.51" y2="310.1" stroke="#000" stroke-width="1.4"/>
<line x1="366.73" y1="305.4" x2="366.73" y2="310.1" stroke="#000" stroke-width="1.4"/>
<line x1="371.25" y1="305.4" x2="371.25" y2="310.1" stroke="#000" stroke-width="1.4"/>
<line x1="375.23" y1="305.4" x2="375.23" y2="310.1" stroke="#000" stroke-width="1.4"/>
<line x1="378.8" y1="305.4" x2="378.8" y2="313.2" stroke="#000" stroke-width="1.75"/>
<line x1="59.33" y1="8" x2="67.13" y2="8" stroke="#000" stroke-width="1.75"/>
<text transform="translate(56.53,12.7) scale(1.15,1)" font-size="13.2" text-anchor="end">1</text>
<line x1="59.33" y1="70.24" x2="67.13" y2="70.24" stroke="#000" stroke-width="1.75"/>
<text transform="translate(56.53,74.94) scale(1.15,1)" font-size="13.2" text-anchor="end">0.8</text>
<line x1="59.33" y1="132.48" x2="67.13" y2="132.48" stroke="#000" stroke-width="1.75"/>
<text transform="translate(56.53,137.18) scale(1.15,1)" font-size="13.2" text-anchor="end">0.6</text>
<line x1="59.33" y1="194.72" x2="67.13" y2="194.72" stroke="#000" stroke-width="1.75"/>
<text transform="translate(56.53,199.42) scale(1.15,1)" font-size="13.2" text-anchor="end">0.4</text>
<line x1="59.33" y1="255.2" x2="67.13" y2="255.2" stroke="#000" stroke-width="1.75"/>
<text transform="translate(56.53,259.9) scale(1.15,1)" font-size="13.2" text-anchor="end">0.02</text>
<line x1="59.33" y1="275.4" x2="67.13" y2="275.4" stroke="#000" stroke-width="1.75"/>
<text transform="translate(56.53,280.1) scale(1.15,1)" font-size="13.2" text-anchor="end">0</text>
<line x1="59.33" y1="295.6" x2="67.13" y2="295.6" stroke="#000" stroke-width="1.75"/>
<text transform="translate(56.53,300.3) scale(1.15,1)" font-size="13.2" text-anchor="end">-0.02</text>
<text transform="translate(149.25,325.6) scale(1.1,1)" font-size="13.2" text-anchor="end">10</text>
<text transform="translate(150.25,320.4) scale(1.1,1)" font-size="9.3">0</text>
<text transform="translate(227.16,325.6) scale(1.1,1)" font-size="13.2" text-anchor="end">10</text>
<text transform="translate(228.16,320.4) scale(1.1,1)" font-size="9.3">1</text>
<text transform="translate(305.08,325.6) scale(1.1,1)" font-size="13.2" text-anchor="end">10</text>
<text transform="translate(306.08,320.4) scale(1.1,1)" font-size="9.3">2</text>
<text transform="translate(383,325.6) scale(1.1,1)" font-size="13.2" text-anchor="end">10</text>
<text transform="translate(384,320.4) scale(1.1,1)" font-size="9.3">3</text>
<text transform="translate(223.16,344.9) scale(1.09,1)" font-size="19" text-anchor="middle">w (<tspan font-style="italic">μ</tspan>s)</text>
<clipPath id="cBm"><rect x="442.05" y="1.6" width="311.75" height="243.2"/></clipPath>
<clipPath id="cBr"><rect x="442.05" y="244.8" width="311.75" height="60.7"/></clipPath>
<g clip-path="url(#cBm)">
<circle cx="442.05" cy="2.91" r="2" fill="#1f77b4"/>
<circle cx="452.8" cy="11.16" r="2" fill="#1f77b4"/>
<circle cx="463.55" cy="29.11" r="2" fill="#1f77b4"/>
<circle cx="474.3" cy="32.6" r="2" fill="#1f77b4"/>
<circle cx="485.05" cy="46.35" r="2" fill="#1f77b4"/>
<circle cx="495.8" cy="59.6" r="2" fill="#1f77b4"/>
<circle cx="506.55" cy="78.63" r="2" fill="#1f77b4"/>
<circle cx="517.3" cy="98.24" r="2" fill="#1f77b4"/>
<circle cx="528.05" cy="121.73" r="2" fill="#1f77b4"/>
<circle cx="538.8" cy="137.84" r="2" fill="#1f77b4"/>
<circle cx="549.55" cy="152.36" r="2" fill="#1f77b4"/>
<circle cx="560.3" cy="163.36" r="2" fill="#1f77b4"/>
<circle cx="571.05" cy="171.81" r="2" fill="#1f77b4"/>
<circle cx="581.8" cy="179.71" r="2" fill="#1f77b4"/>
<circle cx="592.55" cy="184.13" r="2" fill="#1f77b4"/>
<circle cx="603.3" cy="187.15" r="2" fill="#1f77b4"/>
<circle cx="614.05" cy="190.68" r="2" fill="#1f77b4"/>
<circle cx="624.8" cy="191.54" r="2" fill="#1f77b4"/>
<circle cx="635.55" cy="193.01" r="2" fill="#1f77b4"/>
<circle cx="646.3" cy="193.82" r="2" fill="#1f77b4"/>
<circle cx="657.05" cy="195.9" r="2" fill="#1f77b4"/>
<circle cx="667.8" cy="196.36" r="2" fill="#1f77b4"/>
<circle cx="678.55" cy="196.36" r="2" fill="#1f77b4"/>
<circle cx="689.3" cy="201.42" r="2" fill="#1f77b4"/>
<circle cx="700.05" cy="198.48" r="2" fill="#1f77b4"/>
<circle cx="710.8" cy="198.96" r="2" fill="#1f77b4"/>
<circle cx="721.55" cy="199.5" r="2" fill="#1f77b4"/>
<circle cx="732.3" cy="201.3" r="2" fill="#1f77b4"/>
<circle cx="743.05" cy="202.94" r="2" fill="#1f77b4"/>
<circle cx="753.8" cy="204.74" r="2" fill="#1f77b4"/>
<path d="M442.05 8.16 L443.05 8.55 L444.05 8.97 L445.05 9.41 L446.05 9.89 L447.05 10.39 L448.05 10.92 L449.05 11.48 L450.05 12.06 L451.05 12.67 L452.05 13.3 L453.05 13.96 L454.05 14.65 L455.05 15.36 L456.05 16.09 L457.05 16.85 L458.05 17.63 L459.05 18.44 L460.05 19.26 L461.05 20.11 L462.05 20.98 L463.05 21.88 L464.05 22.79 L465.05 23.72 L466.05 24.68 L467.05 25.65 L468.05 26.64 L469.05 27.66 L470.05 28.69 L471.05 29.74 L472.05 30.8 L473.05 31.89 L474.05 32.99 L475.05 34.11 L476.05 35.24 L477.05 36.39 L478.05 37.56 L479.05 38.74 L480.05 39.94 L481.05 41.15 L482.05 42.37 L483.05 43.61 L484.05 44.86 L485.05 46.12 L486.05 47.4 L487.05 48.68 L488.05 49.98 L489.05 51.29 L490.05 52.61 L491.05 53.95 L492.05 55.29 L493.05 56.65 L494.05 58.02 L495.05 59.41 L496.05 60.83 L497.05 62.26 L498.05 63.72 L499.05 65.2 L500.05 66.71 L501.05 68.25 L502.05 69.82 L503.05 71.42 L504.05 73.06 L505.05 74.74 L506.05 76.45 L507.05 78.21 L508.05 80 L509.05 81.84 L510.05 83.73 L511.05 85.66 L512.05 87.64 L513.05 89.65 L514.05 91.69 L515.05 93.76 L516.05 95.84 L517.05 97.94 L518.05 100.05 L519.05 102.16 L520.05 104.27 L521.05 106.37 L522.05 108.46 L523.05 110.53 L524.05 112.57 L525.05 114.59 L526.05 116.57 L527.05 118.52 L528.05 120.43 L529.05 122.28 L530.05 124.09 L531.05 125.84 L532.05 127.54 L533.05 129.18 L534.05 130.78 L535.05 132.34 L536.05 133.86 L537.05 135.33 L538.05 136.78 L539.05 138.19 L540.05 139.57 L541.05 140.93 L542.05 142.26 L543.05 143.57 L544.05 144.85 L545.05 146.11 L546.05 147.35 L547.05 148.56 L548.05 149.75 L549.05 150.91 L550.05 152.06 L551.05 153.18 L552.05 154.27 L553.05 155.35 L554.05 156.4 L555.05 157.43 L556.05 158.44 L557.05 159.42 L558.05 160.39 L559.05 161.34 L560.05 162.26 L561.05 163.16 L562.05 164.05 L563.05 164.91 L564.05 165.76 L565.05 166.58 L566.05 167.39 L567.05 168.18 L568.05 168.94 L569.05 169.69 L570.05 170.43 L571.05 171.14 L572.05 171.83 L573.05 172.51 L574.05 173.17 L575.05 173.82 L576.05 174.45 L577.05 175.06 L578.05 175.65 L579.05 176.23 L580.05 176.79 L581.05 177.34 L582.05 177.87 L583.05 178.39 L584.05 178.89 L585.05 179.38 L586.05 179.85 L587.05 180.31 L588.05 180.75 L589.05 181.18 L590.05 181.6 L591.05 182.01 L592.05 182.4 L593.05 182.78 L594.05 183.15 L595.05 183.51 L596.05 183.85 L597.05 184.19 L598.05 184.51 L599.05 184.83 L600.05 185.13 L601.05 185.42 L602.05 185.71 L603.05 185.98 L604.05 186.25 L605.05 186.51 L606.05 186.75 L607.05 186.99 L608.05 187.23 L609.05 187.45 L610.05 187.67 L611.05 187.88 L612.05 188.09 L613.05 188.28 L614.05 188.48 L615.05 188.66 L616.05 188.84 L617.05 189.02 L618.05 189.19 L619.05 189.36 L620.05 189.52 L621.05 189.68 L622.05 189.83 L623.05 189.98 L624.05 190.13 L625.05 190.28 L626.05 190.42 L627.05 190.56 L628.05 190.7 L629.05 190.83 L630.05 190.97 L631.05 191.1 L632.05 191.24 L633.05 191.37 L634.05 191.5 L635.05 191.64 L636.05 191.77 L637.05 191.91 L638.05 192.04 L639.05 192.17 L640.05 192.31 L641.05 192.44 L642.05 192.58 L643.05 192.71 L644.05 192.85 L645.05 192.98 L646.05 193.11 L647.05 193.25 L648.05 193.38 L649.05 193.52 L650.05 193.65 L651.05 193.79 L652.05 193.92 L653.05 194.06 L654.05 194.19 L655.05 194.33 L656.05 194.46 L657.05 194.6 L658.05 194.73 L659.05 194.86 L660.05 195 L661.05 195.13 L662.05 195.26 L663.05 195.4 L664.05 195.53 L665.05 195.66 L666.05 195.8 L667.05 195.93 L668.05 196.06 L669.05 196.19 L670.05 196.32 L671.05 196.46 L672.05 196.59 L673.05 196.72 L674.05 196.85 L675.05 196.98 L676.05 197.11 L677.05 197.23 L678.05 197.36 L679.05 197.49 L680.05 197.62 L681.05 197.75 L682.05 197.87 L683.05 198 L684.05 198.13 L685.05 198.25 L686.05 198.38 L687.05 198.5 L688.05 198.63 L689.05 198.75 L690.05 198.88 L691.05 199 L692.05 199.13 L693.05 199.25 L694.05 199.37 L695.05 199.5 L696.05 199.62 L697.05 199.75 L698.05 199.87 L699.05 199.99 L700.05 200.12 L701.05 200.24 L702.05 200.37 L703.05 200.49 L704.05 200.62 L705.05 200.74 L706.05 200.87 L707.05 200.99 L708.05 201.12 L709.05 201.25 L710.05 201.37 L711.05 201.5 L712.05 201.63 L713.05 201.76 L714.05 201.89 L715.05 202.02 L716.05 202.15 L717.05 202.28 L718.05 202.41 L719.05 202.54 L720.05 202.68 L721.05 202.81 L722.05 202.95 L723.05 203.08 L724.05 203.22 L725.05 203.35 L726.05 203.49 L727.05 203.63 L728.05 203.77 L729.05 203.91 L730.05 204.06 L731.05 204.2 L732.05 204.34 L733.05 204.49 L734.05 204.63 L735.05 204.78 L736.05 204.93 L737.05 205.08 L738.05 205.23 L739.05 205.39 L740.05 205.54 L741.05 205.7 L742.05 205.85 L743.05 206.01 L744.05 206.17 L745.05 206.33 L746.05 206.49 L747.05 206.66 L748.05 206.82 L749.05 206.99 L750.05 207.16 L751.05 207.33 L752.05 207.5 L753.05 207.68" fill="none" stroke="#1f77b4" stroke-width="2.5" stroke-linejoin="round" stroke-linecap="round"/>
<circle cx="442.05" cy="2.02" r="2" fill="#ff7f0e"/>
<circle cx="452.8" cy="11.09" r="2" fill="#ff7f0e"/>
<circle cx="463.55" cy="21.57" r="2" fill="#ff7f0e"/>
<circle cx="474.3" cy="33.18" r="2" fill="#ff7f0e"/>
<circle cx="485.05" cy="48.01" r="2" fill="#ff7f0e"/>
<circle cx="495.8" cy="63.37" r="2" fill="#ff7f0e"/>
<circle cx="506.55" cy="81.38" r="2" fill="#ff7f0e"/>
<circle cx="517.3" cy="102.65" r="2" fill="#ff7f0e"/>
<circle cx="528.05" cy="123" r="2" fill="#ff7f0e"/>
<circle cx="538.8" cy="135.94" r="2" fill="#ff7f0e"/>
<circle cx="549.55" cy="147.76" r="2" fill="#ff7f0e"/>
<circle cx="560.3" cy="156.84" r="2" fill="#ff7f0e"/>
<circle cx="571.05" cy="163.23" r="2" fill="#ff7f0e"/>
<circle cx="581.8" cy="169.2" r="2" fill="#ff7f0e"/>
<circle cx="592.55" cy="172.3" r="2" fill="#ff7f0e"/>
<circle cx="603.3" cy="174.63" r="2" fill="#ff7f0e"/>
<circle cx="614.05" cy="178.19" r="2" fill="#ff7f0e"/>
<circle cx="624.8" cy="177.69" r="2" fill="#ff7f0e"/>
<circle cx="635.55" cy="179.49" r="2" fill="#ff7f0e"/>
<circle cx="646.3" cy="179.51" r="2" fill="#ff7f0e"/>
<circle cx="657.05" cy="180.36" r="2" fill="#ff7f0e"/>
<circle cx="667.8" cy="181.05" r="2" fill="#ff7f0e"/>
<circle cx="678.55" cy="181.17" r="2" fill="#ff7f0e"/>
<circle cx="689.3" cy="181.4" r="2" fill="#ff7f0e"/>
<circle cx="700.05" cy="182.83" r="2" fill="#ff7f0e"/>
<circle cx="710.8" cy="184.55" r="2" fill="#ff7f0e"/>
<circle cx="721.55" cy="185.68" r="2" fill="#ff7f0e"/>
<circle cx="732.3" cy="188.69" r="2" fill="#ff7f0e"/>
<circle cx="743.05" cy="191.24" r="2" fill="#ff7f0e"/>
<circle cx="753.8" cy="193.99" r="2" fill="#ff7f0e"/>
<path d="M442.05 8.16 L443.05 8.58 L444.05 9.03 L445.05 9.51 L446.05 10.02 L447.05 10.56 L448.05 11.12 L449.05 11.71 L450.05 12.33 L451.05 12.97 L452.05 13.65 L453.05 14.34 L454.05 15.06 L455.05 15.81 L456.05 16.58 L457.05 17.38 L458.05 18.2 L459.05 19.04 L460.05 19.9 L461.05 20.79 L462.05 21.7 L463.05 22.63 L464.05 23.58 L465.05 24.56 L466.05 25.55 L467.05 26.57 L468.05 27.6 L469.05 28.65 L470.05 29.72 L471.05 30.81 L472.05 31.92 L473.05 33.05 L474.05 34.19 L475.05 35.35 L476.05 36.53 L477.05 37.72 L478.05 38.92 L479.05 40.15 L480.05 41.38 L481.05 42.64 L482.05 43.9 L483.05 45.18 L484.05 46.47 L485.05 47.78 L486.05 49.09 L487.05 50.42 L488.05 51.76 L489.05 53.11 L490.05 54.47 L491.05 55.85 L492.05 57.23 L493.05 58.62 L494.05 60.02 L495.05 61.44 L496.05 62.86 L497.05 64.3 L498.05 65.74 L499.05 67.19 L500.05 68.66 L501.05 70.14 L502.05 71.63 L503.05 73.15 L504.05 74.7 L505.05 76.28 L506.05 77.91 L507.05 79.58 L508.05 81.31 L509.05 83.11 L510.05 84.97 L511.05 86.9 L512.05 88.9 L513.05 90.94 L514.05 93.01 L515.05 95.1 L516.05 97.2 L517.05 99.29 L518.05 101.36 L519.05 103.39 L520.05 105.38 L521.05 107.31 L522.05 109.18 L523.05 110.99 L524.05 112.75 L525.05 114.46 L526.05 116.11 L527.05 117.72 L528.05 119.29 L529.05 120.81 L530.05 122.29 L531.05 123.73 L532.05 125.13 L533.05 126.5 L534.05 127.84 L535.05 129.14 L536.05 130.4 L537.05 131.64 L538.05 132.85 L539.05 134.03 L540.05 135.18 L541.05 136.31 L542.05 137.41 L543.05 138.49 L544.05 139.54 L545.05 140.57 L546.05 141.58 L547.05 142.56 L548.05 143.52 L549.05 144.46 L550.05 145.37 L551.05 146.27 L552.05 147.14 L553.05 147.99 L554.05 148.82 L555.05 149.63 L556.05 150.42 L557.05 151.19 L558.05 151.94 L559.05 152.68 L560.05 153.39 L561.05 154.09 L562.05 154.77 L563.05 155.43 L564.05 156.08 L565.05 156.71 L566.05 157.32 L567.05 157.92 L568.05 158.5 L569.05 159.07 L570.05 159.62 L571.05 160.16 L572.05 160.68 L573.05 161.2 L574.05 161.69 L575.05 162.18 L576.05 162.65 L577.05 163.12 L578.05 163.57 L579.05 164.01 L580.05 164.44 L581.05 164.85 L582.05 165.26 L583.05 165.66 L584.05 166.05 L585.05 166.43 L586.05 166.8 L587.05 167.17 L588.05 167.52 L589.05 167.87 L590.05 168.21 L591.05 168.54 L592.05 168.86 L593.05 169.18 L594.05 169.48 L595.05 169.78 L596.05 170.08 L597.05 170.36 L598.05 170.64 L599.05 170.91 L600.05 171.18 L601.05 171.43 L602.05 171.69 L603.05 171.93 L604.05 172.17 L605.05 172.4 L606.05 172.63 L607.05 172.85 L608.05 173.07 L609.05 173.27 L610.05 173.48 L611.05 173.68 L612.05 173.87 L613.05 174.06 L614.05 174.24 L615.05 174.42 L616.05 174.6 L617.05 174.77 L618.05 174.93 L619.05 175.1 L620.05 175.25 L621.05 175.41 L622.05 175.56 L623.05 175.7 L624.05 175.85 L625.05 175.98 L626.05 176.12 L627.05 176.25 L628.05 176.38 L629.05 176.51 L630.05 176.64 L631.05 176.76 L632.05 176.88 L633.05 177 L634.05 177.11 L635.05 177.22 L636.05 177.34 L637.05 177.44 L638.05 177.55 L639.05 177.66 L640.05 177.77 L641.05 177.87 L642.05 177.97 L643.05 178.07 L644.05 178.18 L645.05 178.28 L646.05 178.38 L647.05 178.48 L648.05 178.58 L649.05 178.68 L650.05 178.78 L651.05 178.88 L652.05 178.98 L653.05 179.08 L654.05 179.18 L655.05 179.28 L656.05 179.39 L657.05 179.49 L658.05 179.6 L659.05 179.7 L660.05 179.81 L661.05 179.92 L662.05 180.03 L663.05 180.15 L664.05 180.26 L665.05 180.38 L666.05 180.5 L667.05 180.62 L668.05 180.74 L669.05 180.87 L670.05 181 L671.05 181.14 L672.05 181.27 L673.05 181.41 L674.05 181.55 L675.05 181.7 L676.05 181.85 L677.05 182 L678.05 182.16 L679.05 182.32 L680.05 182.49 L681.05 182.66 L682.05 182.83 L683.05 183.01 L684.05 183.19 L685.05 183.38 L686.05 183.57 L687.05 183.76 L688.05 183.96 L689.05 184.16 L690.05 184.36 L691.05 184.57 L692.05 184.78 L693.05 184.99 L694.05 185.2 L695.05 185.42 L696.05 185.64 L697.05 185.86 L698.05 186.08 L699.05 186.31 L700.05 186.54 L701.05 186.77 L702.05 187 L703.05 187.23 L704.05 187.46 L705.05 187.7 L706.05 187.93 L707.05 188.17 L708.05 188.41 L709.05 188.65 L710.05 188.88 L711.05 189.12 L712.05 189.36 L713.05 189.6 L714.05 189.84 L715.05 190.08 L716.05 190.32 L717.05 190.56 L718.05 190.8 L719.05 191.04 L720.05 191.27 L721.05 191.51 L722.05 191.74 L723.05 191.98 L724.05 192.21 L725.05 192.44 L726.05 192.67 L727.05 192.9 L728.05 193.13 L729.05 193.35 L730.05 193.57 L731.05 193.79 L732.05 194.01 L733.05 194.23 L734.05 194.44 L735.05 194.65 L736.05 194.86 L737.05 195.06 L738.05 195.26 L739.05 195.46 L740.05 195.66 L741.05 195.85 L742.05 196.04 L743.05 196.22 L744.05 196.4 L745.05 196.58 L746.05 196.75 L747.05 196.92 L748.05 197.08 L749.05 197.24 L750.05 197.39 L751.05 197.54 L752.05 197.69 L753.05 197.83" fill="none" stroke="#ff7f0e" stroke-width="2.5" stroke-linejoin="round" stroke-linecap="round"/>
<circle cx="442.05" cy="3.71" r="2" fill="#2ca02c"/>
<circle cx="452.8" cy="13.62" r="2" fill="#2ca02c"/>
<circle cx="463.55" cy="24.45" r="2" fill="#2ca02c"/>
<circle cx="474.3" cy="36" r="2" fill="#2ca02c"/>
<circle cx="485.05" cy="51.15" r="2" fill="#2ca02c"/>
<circle cx="495.8" cy="65.16" r="2" fill="#2ca02c"/>
<circle cx="506.55" cy="83.43" r="2" fill="#2ca02c"/>
<circle cx="517.3" cy="101.33" r="2" fill="#2ca02c"/>
<circle cx="528.05" cy="118.55" r="2" fill="#2ca02c"/>
<circle cx="538.8" cy="129.48" r="2" fill="#2ca02c"/>
<circle cx="549.55" cy="140.15" r="2" fill="#2ca02c"/>
<circle cx="560.3" cy="148.63" r="2" fill="#2ca02c"/>
<circle cx="571.05" cy="153.31" r="2" fill="#2ca02c"/>
<circle cx="581.8" cy="156.88" r="2" fill="#2ca02c"/>
<circle cx="592.55" cy="159.1" r="2" fill="#2ca02c"/>
<circle cx="603.3" cy="160.09" r="2" fill="#2ca02c"/>
<circle cx="614.05" cy="163.07" r="2" fill="#2ca02c"/>
<circle cx="624.8" cy="162.62" r="2" fill="#2ca02c"/>
<circle cx="635.55" cy="164.13" r="2" fill="#2ca02c"/>
<circle cx="646.3" cy="165.25" r="2" fill="#2ca02c"/>
<circle cx="657.05" cy="166.54" r="2" fill="#2ca02c"/>
<circle cx="667.8" cy="167.61" r="2" fill="#2ca02c"/>
<circle cx="678.55" cy="168.14" r="2" fill="#2ca02c"/>
<circle cx="689.3" cy="171.73" r="2" fill="#2ca02c"/>
<circle cx="700.05" cy="174.27" r="2" fill="#2ca02c"/>
<circle cx="710.8" cy="178.47" r="2" fill="#2ca02c"/>
<circle cx="721.55" cy="182.46" r="2" fill="#2ca02c"/>
<circle cx="732.3" cy="188.59" r="2" fill="#2ca02c"/>
<circle cx="743.05" cy="193.57" r="2" fill="#2ca02c"/>
<circle cx="753.8" cy="197.69" r="2" fill="#2ca02c"/>
<path d="M442.05 8.32 L443.05 8.82 L444.05 9.34 L445.05 9.9 L446.05 10.49 L447.05 11.1 L448.05 11.75 L449.05 12.42 L450.05 13.11 L451.05 13.84 L452.05 14.58 L453.05 15.36 L454.05 16.16 L455.05 16.98 L456.05 17.83 L457.05 18.7 L458.05 19.59 L459.05 20.5 L460.05 21.44 L461.05 22.4 L462.05 23.38 L463.05 24.38 L464.05 25.4 L465.05 26.44 L466.05 27.49 L467.05 28.57 L468.05 29.66 L469.05 30.77 L470.05 31.9 L471.05 33.04 L472.05 34.2 L473.05 35.38 L474.05 36.56 L475.05 37.77 L476.05 38.99 L477.05 40.22 L478.05 41.46 L479.05 42.72 L480.05 43.98 L481.05 45.26 L482.05 46.55 L483.05 47.85 L484.05 49.16 L485.05 50.48 L486.05 51.81 L487.05 53.14 L488.05 54.49 L489.05 55.84 L490.05 57.19 L491.05 58.56 L492.05 59.93 L493.05 61.31 L494.05 62.7 L495.05 64.1 L496.05 65.52 L497.05 66.95 L498.05 68.39 L499.05 69.85 L500.05 71.33 L501.05 72.83 L502.05 74.34 L503.05 75.88 L504.05 77.44 L505.05 79.03 L506.05 80.64 L507.05 82.28 L508.05 83.94 L509.05 85.64 L510.05 87.36 L511.05 89.12 L512.05 90.89 L513.05 92.68 L514.05 94.48 L515.05 96.27 L516.05 98.04 L517.05 99.8 L518.05 101.52 L519.05 103.2 L520.05 104.84 L521.05 106.41 L522.05 107.94 L523.05 109.41 L524.05 110.84 L525.05 112.22 L526.05 113.56 L527.05 114.87 L528.05 116.14 L529.05 117.39 L530.05 118.61 L531.05 119.8 L532.05 120.98 L533.05 122.13 L534.05 123.27 L535.05 124.38 L536.05 125.47 L537.05 126.54 L538.05 127.6 L539.05 128.64 L540.05 129.66 L541.05 130.66 L542.05 131.64 L543.05 132.61 L544.05 133.55 L545.05 134.48 L546.05 135.39 L547.05 136.28 L548.05 137.15 L549.05 138 L550.05 138.83 L551.05 139.63 L552.05 140.42 L553.05 141.18 L554.05 141.92 L555.05 142.63 L556.05 143.32 L557.05 143.99 L558.05 144.64 L559.05 145.25 L560.05 145.85 L561.05 146.42 L562.05 146.96 L563.05 147.48 L564.05 147.98 L565.05 148.45 L566.05 148.91 L567.05 149.34 L568.05 149.76 L569.05 150.16 L570.05 150.54 L571.05 150.9 L572.05 151.25 L573.05 151.58 L574.05 151.9 L575.05 152.21 L576.05 152.51 L577.05 152.79 L578.05 153.07 L579.05 153.34 L580.05 153.6 L581.05 153.85 L582.05 154.1 L583.05 154.34 L584.05 154.57 L585.05 154.81 L586.05 155.04 L587.05 155.26 L588.05 155.49 L589.05 155.71 L590.05 155.93 L591.05 156.14 L592.05 156.35 L593.05 156.56 L594.05 156.77 L595.05 156.97 L596.05 157.17 L597.05 157.37 L598.05 157.56 L599.05 157.76 L600.05 157.95 L601.05 158.14 L602.05 158.32 L603.05 158.51 L604.05 158.69 L605.05 158.87 L606.05 159.05 L607.05 159.23 L608.05 159.41 L609.05 159.58 L610.05 159.75 L611.05 159.93 L612.05 160.1 L613.05 160.26 L614.05 160.43 L615.05 160.6 L616.05 160.76 L617.05 160.93 L618.05 161.09 L619.05 161.26 L620.05 161.42 L621.05 161.58 L622.05 161.74 L623.05 161.9 L624.05 162.06 L625.05 162.22 L626.05 162.38 L627.05 162.54 L628.05 162.7 L629.05 162.86 L630.05 163.02 L631.05 163.18 L632.05 163.34 L633.05 163.5 L634.05 163.66 L635.05 163.82 L636.05 163.98 L637.05 164.14 L638.05 164.31 L639.05 164.47 L640.05 164.64 L641.05 164.8 L642.05 164.97 L643.05 165.13 L644.05 165.3 L645.05 165.47 L646.05 165.65 L647.05 165.82 L648.05 165.99 L649.05 166.17 L650.05 166.35 L651.05 166.52 L652.05 166.71 L653.05 166.89 L654.05 167.07 L655.05 167.26 L656.05 167.45 L657.05 167.64 L658.05 167.83 L659.05 168.03 L660.05 168.23 L661.05 168.43 L662.05 168.63 L663.05 168.84 L664.05 169.04 L665.05 169.26 L666.05 169.47 L667.05 169.69 L668.05 169.91 L669.05 170.13 L670.05 170.36 L671.05 170.59 L672.05 170.82 L673.05 171.06 L674.05 171.3 L675.05 171.54 L676.05 171.79 L677.05 172.04 L678.05 172.29 L679.05 172.55 L680.05 172.81 L681.05 173.08 L682.05 173.35 L683.05 173.63 L684.05 173.91 L685.05 174.19 L686.05 174.48 L687.05 174.77 L688.05 175.06 L689.05 175.36 L690.05 175.66 L691.05 175.97 L692.05 176.28 L693.05 176.59 L694.05 176.9 L695.05 177.22 L696.05 177.54 L697.05 177.86 L698.05 178.19 L699.05 178.51 L700.05 178.84 L701.05 179.17 L702.05 179.51 L703.05 179.84 L704.05 180.18 L705.05 180.52 L706.05 180.85 L707.05 181.19 L708.05 181.54 L709.05 181.88 L710.05 182.22 L711.05 182.56 L712.05 182.91 L713.05 183.25 L714.05 183.6 L715.05 183.94 L716.05 184.28 L717.05 184.63 L718.05 184.97 L719.05 185.32 L720.05 185.66 L721.05 186 L722.05 186.34 L723.05 186.68 L724.05 187.02 L725.05 187.36 L726.05 187.69 L727.05 188.02 L728.05 188.34 L729.05 188.66 L730.05 188.97 L731.05 189.28 L732.05 189.59 L733.05 189.88 L734.05 190.17 L735.05 190.45 L736.05 190.73 L737.05 190.99 L738.05 191.24 L739.05 191.49 L740.05 191.72 L741.05 191.95 L742.05 192.16 L743.05 192.36 L744.05 192.55 L745.05 192.73 L746.05 192.89 L747.05 193.04 L748.05 193.17 L749.05 193.29 L750.05 193.4 L751.05 193.49 L752.05 193.56 L753.05 193.61" fill="none" stroke="#2ca02c" stroke-width="2.5" stroke-linejoin="round" stroke-linecap="round"/>
<circle cx="442.05" cy="7.3" r="2" fill="#d62728"/>
<circle cx="452.8" cy="18.03" r="2" fill="#d62728"/>
<circle cx="463.55" cy="27.44" r="2" fill="#d62728"/>
<circle cx="474.3" cy="38.5" r="2" fill="#d62728"/>
<circle cx="485.05" cy="53.19" r="2" fill="#d62728"/>
<circle cx="495.8" cy="67.02" r="2" fill="#d62728"/>
<circle cx="506.55" cy="84.33" r="2" fill="#d62728"/>
<circle cx="517.3" cy="98.17" r="2" fill="#d62728"/>
<circle cx="528.05" cy="112.59" r="2" fill="#d62728"/>
<circle cx="538.8" cy="120.64" r="2" fill="#d62728"/>
<circle cx="549.55" cy="129.28" r="2" fill="#d62728"/>
<circle cx="560.3" cy="135.56" r="2" fill="#d62728"/>
<circle cx="571.05" cy="139.47" r="2" fill="#d62728"/>
<circle cx="581.8" cy="143.36" r="2" fill="#d62728"/>
<circle cx="592.55" cy="146.33" r="2" fill="#d62728"/>
<circle cx="603.3" cy="146.04" r="2" fill="#d62728"/>
<circle cx="614.05" cy="148.73" r="2" fill="#d62728"/>
<circle cx="624.8" cy="147.71" r="2" fill="#d62728"/>
<circle cx="635.55" cy="148.83" r="2" fill="#d62728"/>
<circle cx="646.3" cy="150.72" r="2" fill="#d62728"/>
<circle cx="657.05" cy="153.17" r="2" fill="#d62728"/>
<circle cx="667.8" cy="155.06" r="2" fill="#d62728"/>
<circle cx="678.55" cy="158.68" r="2" fill="#d62728"/>
<circle cx="689.3" cy="163.45" r="2" fill="#d62728"/>
<circle cx="700.05" cy="168.58" r="2" fill="#d62728"/>
<circle cx="710.8" cy="176.68" r="2" fill="#d62728"/>
<circle cx="721.55" cy="184.6" r="2" fill="#d62728"/>
<circle cx="732.3" cy="194.03" r="2" fill="#d62728"/>
<circle cx="743.05" cy="202.57" r="2" fill="#d62728"/>
<circle cx="753.8" cy="207.33" r="2" fill="#d62728"/>
<path d="M442.05 8.4 L443.05 9.08 L444.05 9.77 L445.05 10.49 L446.05 11.23 L447.05 11.99 L448.05 12.76 L449.05 13.56 L450.05 14.38 L451.05 15.21 L452.05 16.07 L453.05 16.94 L454.05 17.84 L455.05 18.75 L456.05 19.68 L457.05 20.62 L458.05 21.59 L459.05 22.57 L460.05 23.57 L461.05 24.59 L462.05 25.63 L463.05 26.68 L464.05 27.75 L465.05 28.83 L466.05 29.93 L467.05 31.05 L468.05 32.18 L469.05 33.33 L470.05 34.49 L471.05 35.67 L472.05 36.86 L473.05 38.07 L474.05 39.29 L475.05 40.53 L476.05 41.78 L477.05 43.04 L478.05 44.32 L479.05 45.61 L480.05 46.92 L481.05 48.23 L482.05 49.56 L483.05 50.91 L484.05 52.26 L485.05 53.63 L486.05 55.01 L487.05 56.4 L488.05 57.8 L489.05 59.21 L490.05 60.63 L491.05 62.07 L492.05 63.51 L493.05 64.97 L494.05 66.42 L495.05 67.89 L496.05 69.36 L497.05 70.83 L498.05 72.31 L499.05 73.78 L500.05 75.26 L501.05 76.74 L502.05 78.21 L503.05 79.68 L504.05 81.14 L505.05 82.6 L506.05 84.05 L507.05 85.49 L508.05 86.92 L509.05 88.34 L510.05 89.75 L511.05 91.14 L512.05 92.52 L513.05 93.88 L514.05 95.23 L515.05 96.56 L516.05 97.86 L517.05 99.15 L518.05 100.42 L519.05 101.66 L520.05 102.88 L521.05 104.07 L522.05 105.23 L523.05 106.38 L524.05 107.49 L525.05 108.59 L526.05 109.66 L527.05 110.7 L528.05 111.72 L529.05 112.72 L530.05 113.7 L531.05 114.65 L532.05 115.58 L533.05 116.49 L534.05 117.38 L535.05 118.24 L536.05 119.09 L537.05 119.91 L538.05 120.72 L539.05 121.5 L540.05 122.27 L541.05 123.01 L542.05 123.74 L543.05 124.45 L544.05 125.14 L545.05 125.81 L546.05 126.46 L547.05 127.1 L548.05 127.71 L549.05 128.32 L550.05 128.9 L551.05 129.47 L552.05 130.02 L553.05 130.56 L554.05 131.08 L555.05 131.59 L556.05 132.08 L557.05 132.56 L558.05 133.03 L559.05 133.48 L560.05 133.91 L561.05 134.34 L562.05 134.75 L563.05 135.15 L564.05 135.54 L565.05 135.91 L566.05 136.27 L567.05 136.63 L568.05 136.97 L569.05 137.3 L570.05 137.62 L571.05 137.93 L572.05 138.23 L573.05 138.52 L574.05 138.8 L575.05 139.08 L576.05 139.34 L577.05 139.6 L578.05 139.85 L579.05 140.09 L580.05 140.33 L581.05 140.55 L582.05 140.78 L583.05 140.99 L584.05 141.2 L585.05 141.4 L586.05 141.6 L587.05 141.8 L588.05 141.98 L589.05 142.17 L590.05 142.35 L591.05 142.53 L592.05 142.7 L593.05 142.87 L594.05 143.04 L595.05 143.2 L596.05 143.37 L597.05 143.53 L598.05 143.69 L599.05 143.84 L600.05 144 L601.05 144.16 L602.05 144.31 L603.05 144.46 L604.05 144.61 L605.05 144.76 L606.05 144.91 L607.05 145.06 L608.05 145.21 L609.05 145.36 L610.05 145.5 L611.05 145.65 L612.05 145.8 L613.05 145.95 L614.05 146.09 L615.05 146.24 L616.05 146.39 L617.05 146.54 L618.05 146.68 L619.05 146.83 L620.05 146.98 L621.05 147.13 L622.05 147.29 L623.05 147.44 L624.05 147.59 L625.05 147.75 L626.05 147.91 L627.05 148.06 L628.05 148.23 L629.05 148.39 L630.05 148.55 L631.05 148.72 L632.05 148.89 L633.05 149.06 L634.05 149.23 L635.05 149.41 L636.05 149.58 L637.05 149.77 L638.05 149.95 L639.05 150.14 L640.05 150.33 L641.05 150.52 L642.05 150.72 L643.05 150.92 L644.05 151.12 L645.05 151.33 L646.05 151.54 L647.05 151.75 L648.05 151.97 L649.05 152.2 L650.05 152.42 L651.05 152.65 L652.05 152.89 L653.05 153.13 L654.05 153.38 L655.05 153.63 L656.05 153.88 L657.05 154.14 L658.05 154.41 L659.05 154.68 L660.05 154.96 L661.05 155.24 L662.05 155.53 L663.05 155.82 L664.05 156.12 L665.05 156.42 L666.05 156.73 L667.05 157.05 L668.05 157.38 L669.05 157.71 L670.05 158.04 L671.05 158.39 L672.05 158.74 L673.05 159.09 L674.05 159.46 L675.05 159.83 L676.05 160.21 L677.05 160.59 L678.05 160.99 L679.05 161.39 L680.05 161.8 L681.05 162.22 L682.05 162.64 L683.05 163.07 L684.05 163.51 L685.05 163.96 L686.05 164.42 L687.05 164.88 L688.05 165.35 L689.05 165.83 L690.05 166.32 L691.05 166.82 L692.05 167.32 L693.05 167.84 L694.05 168.36 L695.05 168.89 L696.05 169.42 L697.05 169.97 L698.05 170.52 L699.05 171.09 L700.05 171.66 L701.05 172.24 L702.05 172.82 L703.05 173.42 L704.05 174.02 L705.05 174.63 L706.05 175.25 L707.05 175.88 L708.05 176.52 L709.05 177.17 L710.05 177.82 L711.05 178.49 L712.05 179.16 L713.05 179.84 L714.05 180.53 L715.05 181.23 L716.05 181.93 L717.05 182.65 L718.05 183.37 L719.05 184.1 L720.05 184.85 L721.05 185.6 L722.05 186.35 L723.05 187.12 L724.05 187.89 L725.05 188.66 L726.05 189.44 L727.05 190.22 L728.05 191 L729.05 191.77 L730.05 192.54 L731.05 193.31 L732.05 194.07 L733.05 194.83 L734.05 195.58 L735.05 196.31 L736.05 197.04 L737.05 197.75 L738.05 198.44 L739.05 199.12 L740.05 199.79 L741.05 200.43 L742.05 201.06 L743.05 201.66 L744.05 202.24 L745.05 202.8 L746.05 203.33 L747.05 203.84 L748.05 204.31 L749.05 204.76 L750.05 205.18 L751.05 205.56 L752.05 205.91 L753.05 206.22" fill="none" stroke="#d62728" stroke-width="2.5" stroke-linejoin="round" stroke-linecap="round"/>
<circle cx="442.05" cy="13.08" r="2" fill="#9467bd"/>
<circle cx="452.8" cy="22.39" r="2" fill="#9467bd"/>
<circle cx="463.55" cy="33.25" r="2" fill="#9467bd"/>
<circle cx="474.3" cy="42.39" r="2" fill="#9467bd"/>
<circle cx="485.05" cy="53.94" r="2" fill="#9467bd"/>
<circle cx="495.8" cy="65.86" r="2" fill="#9467bd"/>
<circle cx="506.55" cy="79.5" r="2" fill="#9467bd"/>
<circle cx="517.3" cy="90.1" r="2" fill="#9467bd"/>
<circle cx="528.05" cy="101.58" r="2" fill="#9467bd"/>
<circle cx="538.8" cy="107.83" r="2" fill="#9467bd"/>
<circle cx="549.55" cy="113.96" r="2" fill="#9467bd"/>
<circle cx="560.3" cy="118.47" r="2" fill="#9467bd"/>
<circle cx="571.05" cy="121.1" r="2" fill="#9467bd"/>
<circle cx="581.8" cy="124.66" r="2" fill="#9467bd"/>
<circle cx="592.55" cy="125.09" r="2" fill="#9467bd"/>
<circle cx="603.3" cy="125.14" r="2" fill="#9467bd"/>
<circle cx="614.05" cy="128.29" r="2" fill="#9467bd"/>
<circle cx="624.8" cy="126.6" r="2" fill="#9467bd"/>
<circle cx="635.55" cy="129.61" r="2" fill="#9467bd"/>
<circle cx="646.3" cy="132.93" r="2" fill="#9467bd"/>
<circle cx="657.05" cy="137.93" r="2" fill="#9467bd"/>
<circle cx="667.8" cy="145.85" r="2" fill="#9467bd"/>
<circle cx="678.55" cy="154.24" r="2" fill="#9467bd"/>
<circle cx="689.3" cy="167.63" r="2" fill="#9467bd"/>
<circle cx="700.05" cy="180.59" r="2" fill="#9467bd"/>
<circle cx="710.8" cy="195.15" r="2" fill="#9467bd"/>
<circle cx="721.55" cy="206.45" r="2" fill="#9467bd"/>
<circle cx="732.3" cy="214.44" r="2" fill="#9467bd"/>
<circle cx="743.05" cy="228.65" r="2" fill="#9467bd"/>
<circle cx="753.8" cy="240.56" r="2" fill="#9467bd"/>
<path d="M442.05 8.26 L443.05 9.07 L444.05 9.9 L445.05 10.76 L446.05 11.65 L447.05 12.56 L448.05 13.49 L449.05 14.44 L450.05 15.42 L451.05 16.42 L452.05 17.44 L453.05 18.48 L454.05 19.53 L455.05 20.61 L456.05 21.71 L457.05 22.82 L458.05 23.94 L459.05 25.09 L460.05 26.25 L461.05 27.42 L462.05 28.6 L463.05 29.8 L464.05 31.01 L465.05 32.23 L466.05 33.47 L467.05 34.71 L468.05 35.96 L469.05 37.22 L470.05 38.48 L471.05 39.76 L472.05 41.03 L473.05 42.32 L474.05 43.61 L475.05 44.9 L476.05 46.2 L477.05 47.49 L478.05 48.79 L479.05 50.1 L480.05 51.4 L481.05 52.7 L482.05 54 L483.05 55.29 L484.05 56.59 L485.05 57.88 L486.05 59.17 L487.05 60.45 L488.05 61.72 L489.05 62.99 L490.05 64.26 L491.05 65.51 L492.05 66.76 L493.05 67.99 L494.05 69.22 L495.05 70.44 L496.05 71.64 L497.05 72.83 L498.05 74.01 L499.05 75.18 L500.05 76.33 L501.05 77.46 L502.05 78.58 L503.05 79.69 L504.05 80.78 L505.05 81.86 L506.05 82.92 L507.05 83.96 L508.05 84.99 L509.05 86.01 L510.05 87.01 L511.05 87.99 L512.05 88.96 L513.05 89.92 L514.05 90.86 L515.05 91.78 L516.05 92.69 L517.05 93.59 L518.05 94.47 L519.05 95.33 L520.05 96.18 L521.05 97.02 L522.05 97.84 L523.05 98.64 L524.05 99.43 L525.05 100.21 L526.05 100.97 L527.05 101.72 L528.05 102.45 L529.05 103.16 L530.05 103.86 L531.05 104.55 L532.05 105.22 L533.05 105.88 L534.05 106.52 L535.05 107.15 L536.05 107.76 L537.05 108.36 L538.05 108.94 L539.05 109.51 L540.05 110.07 L541.05 110.61 L542.05 111.13 L543.05 111.64 L544.05 112.14 L545.05 112.62 L546.05 113.09 L547.05 113.55 L548.05 113.99 L549.05 114.42 L550.05 114.84 L551.05 115.25 L552.05 115.64 L553.05 116.02 L554.05 116.39 L555.05 116.75 L556.05 117.1 L557.05 117.44 L558.05 117.77 L559.05 118.09 L560.05 118.4 L561.05 118.69 L562.05 118.98 L563.05 119.26 L564.05 119.53 L565.05 119.79 L566.05 120.05 L567.05 120.29 L568.05 120.53 L569.05 120.76 L570.05 120.98 L571.05 121.2 L572.05 121.41 L573.05 121.61 L574.05 121.8 L575.05 121.99 L576.05 122.17 L577.05 122.35 L578.05 122.52 L579.05 122.69 L580.05 122.85 L581.05 123.01 L582.05 123.16 L583.05 123.31 L584.05 123.45 L585.05 123.59 L586.05 123.73 L587.05 123.86 L588.05 124 L589.05 124.12 L590.05 124.25 L591.05 124.37 L592.05 124.49 L593.05 124.62 L594.05 124.73 L595.05 124.85 L596.05 124.97 L597.05 125.08 L598.05 125.2 L599.05 125.31 L600.05 125.43 L601.05 125.54 L602.05 125.66 L603.05 125.78 L604.05 125.9 L605.05 126.02 L606.05 126.14 L607.05 126.26 L608.05 126.38 L609.05 126.51 L610.05 126.64 L611.05 126.77 L612.05 126.91 L613.05 127.05 L614.05 127.19 L615.05 127.33 L616.05 127.48 L617.05 127.64 L618.05 127.8 L619.05 127.96 L620.05 128.13 L621.05 128.3 L622.05 128.48 L623.05 128.67 L624.05 128.86 L625.05 129.06 L626.05 129.26 L627.05 129.47 L628.05 129.69 L629.05 129.92 L630.05 130.15 L631.05 130.39 L632.05 130.64 L633.05 130.9 L634.05 131.16 L635.05 131.44 L636.05 131.72 L637.05 132.01 L638.05 132.32 L639.05 132.63 L640.05 132.95 L641.05 133.28 L642.05 133.63 L643.05 133.98 L644.05 134.35 L645.05 134.72 L646.05 135.11 L647.05 135.51 L648.05 135.92 L649.05 136.34 L650.05 136.77 L651.05 137.22 L652.05 137.67 L653.05 138.14 L654.05 138.62 L655.05 139.12 L656.05 139.62 L657.05 140.14 L658.05 140.67 L659.05 141.21 L660.05 141.77 L661.05 142.34 L662.05 142.92 L663.05 143.51 L664.05 144.12 L665.05 144.74 L666.05 145.37 L667.05 146.02 L668.05 146.68 L669.05 147.36 L670.05 148.05 L671.05 148.75 L672.05 149.47 L673.05 150.2 L674.05 150.94 L675.05 151.7 L676.05 152.48 L677.05 153.27 L678.05 154.07 L679.05 154.89 L680.05 155.72 L681.05 156.57 L682.05 157.43 L683.05 158.31 L684.05 159.21 L685.05 160.12 L686.05 161.04 L687.05 161.98 L688.05 162.94 L689.05 163.91 L690.05 164.9 L691.05 165.91 L692.05 166.93 L693.05 167.96 L694.05 169.02 L695.05 170.09 L696.05 171.17 L697.05 172.28 L698.05 173.4 L699.05 174.53 L700.05 175.68 L701.05 176.84 L702.05 178.02 L703.05 179.21 L704.05 180.41 L705.05 181.63 L706.05 182.86 L707.05 184.1 L708.05 185.34 L709.05 186.6 L710.05 187.87 L711.05 189.15 L712.05 190.44 L713.05 191.73 L714.05 193.03 L715.05 194.34 L716.05 195.66 L717.05 196.98 L718.05 198.3 L719.05 199.63 L720.05 200.97 L721.05 202.3 L722.05 203.64 L723.05 204.98 L724.05 206.32 L725.05 207.66 L726.05 208.99 L727.05 210.33 L728.05 211.66 L729.05 212.98 L730.05 214.3 L731.05 215.61 L732.05 216.92 L733.05 218.22 L734.05 219.51 L735.05 220.79 L736.05 222.06 L737.05 223.32 L738.05 224.57 L739.05 225.8 L740.05 227.02 L741.05 228.23 L742.05 229.42 L743.05 230.59 L744.05 231.75 L745.05 232.88 L746.05 234 L747.05 235.1 L748.05 236.18 L749.05 237.24 L750.05 238.27 L751.05 239.28 L752.05 240.27 L753.05 241.23" fill="none" stroke="#9467bd" stroke-width="2.5" stroke-linejoin="round" stroke-linecap="round"/>
</g>
<g clip-path="url(#cBr)">
<line x1="442.05" y1="275.5" x2="753.8" y2="275.5" stroke="#808080" stroke-width="0.85" stroke-dasharray="2.2 2.05"/>
<path d="M442.05 259.8 L452.8 267.6 L463.55 295.8 L474.3 273.5 L485.05 276.2 L495.8 272.9 L506.55 279.4 L517.3 274.8 L528.05 279.4 L538.8 275.5 L549.55 278.1 L560.3 278.1 L571.05 277.5 L581.8 281.4 L592.55 280.1 L603.3 278.8 L614.05 282.1 L624.8 279.4 L635.55 279.4 L646.3 277.5 L657.05 279.4 L667.8 276.5 L678.55 272.3 L689.3 283.4 L700.05 270.6 L710.8 268 L721.55 265.4 L732.3 266.3 L743.05 266.3 L753.8 266.3" fill="none" stroke="#1f77b4" stroke-width="2.6" stroke-linejoin="round"/>
<path d="M442.05 257.1 L452.8 266.3 L463.55 270.9 L474.3 271.6 L485.05 276.2 L495.8 278.1 L506.55 283.4 L517.3 284 L528.05 286.6 L538.8 282.1 L549.55 284 L560.3 285.3 L571.05 284.7 L581.8 287.6 L592.55 285.3 L603.3 283.4 L614.05 287.3 L624.8 280.7 L635.55 282.1 L646.3 278.8 L657.05 278.1 L667.8 276.5 L678.55 272.3 L689.3 267.1 L700.05 264.4 L710.8 262 L721.55 257.7 L732.3 259.4 L743.05 260.6 L753.8 263.7" fill="none" stroke="#ff7f0e" stroke-width="2.6" stroke-linejoin="round"/>
<path d="M442.05 261.7 L452.8 270.9 L463.55 274.2 L474.3 272.9 L485.05 277.5 L495.8 275.5 L506.55 281.4 L517.3 278.8 L528.05 282.7 L538.8 278.8 L549.55 280.7 L560.3 283.4 L571.05 282.7 L581.8 284 L592.55 283.4 L603.3 280.1 L614.05 283.4 L624.8 276.8 L635.55 276.2 L646.3 274.2 L657.05 272.2 L667.8 268.8 L678.55 262.7 L689.3 264.4 L700.05 261.8 L710.8 263.5 L721.55 264.4 L732.3 272.3 L743.05 279.1 L753.8 287.6" fill="none" stroke="#2ca02c" stroke-width="2.6" stroke-linejoin="round"/>
<path d="M442.05 272.2 L452.8 279.4 L463.55 276.2 L474.3 272.2 L485.05 274.2 L495.8 269.6 L506.55 274.2 L517.3 271.6 L528.05 278.1 L538.8 273.5 L549.55 277.5 L560.3 280.1 L571.05 280.1 L581.8 283.4 L592.55 286.1 L603.3 280.1 L614.05 283.4 L624.8 275.5 L635.55 273.5 L646.3 272.9 L657.05 272.6 L667.8 268.8 L678.55 268 L689.3 268 L700.05 266.3 L710.8 270.6 L721.55 271.4 L732.3 274.8 L743.05 278.2 L753.8 278.2" fill="none" stroke="#d62728" stroke-width="2.6" stroke-linejoin="round"/>
<path d="M442.05 289.9 L452.8 288 L463.55 284 L474.3 270.9 L485.05 263.7 L495.8 259.1 L506.55 263.7 L517.3 264.4 L528.05 272.9 L538.8 270.9 L549.55 273.5 L560.3 275.5 L571.05 275.2 L581.8 280.1 L592.55 277.1 L603.3 273.5 L614.05 278.8 L624.8 268.3 L635.55 269.6 L646.3 268.7 L657.05 268.9 L667.8 273.5 L678.55 274.8 L689.3 285.9 L700.05 290.2 L710.8 294.4 L721.55 285.9 L732.3 267.1 L743.05 269.7 L753.8 271.4" fill="none" stroke="#9467bd" stroke-width="2.6" stroke-linejoin="round"/>
</g>
<rect x="442.05" y="1.6" width="311.75" height="243.2" fill="none" stroke="#3a3a3a" stroke-width="1.65"/>
<rect x="442.05" y="244.8" width="311.75" height="60.7" fill="none" stroke="#3a3a3a" stroke-width="1.65"/>
<line x1="465.51" y1="244.8" x2="465.51" y2="249.5" stroke="#000" stroke-width="1.4"/>
<line x1="479.24" y1="244.8" x2="479.24" y2="249.5" stroke="#000" stroke-width="1.4"/>
<line x1="488.97" y1="244.8" x2="488.97" y2="249.5" stroke="#000" stroke-width="1.4"/>
<line x1="496.53" y1="244.8" x2="496.53" y2="249.5" stroke="#000" stroke-width="1.4"/>
<line x1="502.7" y1="244.8" x2="502.7" y2="249.5" stroke="#000" stroke-width="1.4"/>
<line x1="507.91" y1="244.8" x2="507.91" y2="249.5" stroke="#000" stroke-width="1.4"/>
<line x1="512.43" y1="244.8" x2="512.43" y2="249.5" stroke="#000" stroke-width="1.4"/>
<line x1="516.42" y1="244.8" x2="516.42" y2="249.5" stroke="#000" stroke-width="1.4"/>
<line x1="519.99" y1="244.8" x2="519.99" y2="252.6" stroke="#000" stroke-width="1.75"/>
<line x1="543.45" y1="244.8" x2="543.45" y2="249.5" stroke="#000" stroke-width="1.4"/>
<line x1="557.17" y1="244.8" x2="557.17" y2="249.5" stroke="#000" stroke-width="1.4"/>
<line x1="566.91" y1="244.8" x2="566.91" y2="249.5" stroke="#000" stroke-width="1.4"/>
<line x1="574.46" y1="244.8" x2="574.46" y2="249.5" stroke="#000" stroke-width="1.4"/>
<line x1="580.63" y1="244.8" x2="580.63" y2="249.5" stroke="#000" stroke-width="1.4"/>
<line x1="585.85" y1="244.8" x2="585.85" y2="249.5" stroke="#000" stroke-width="1.4"/>
<line x1="590.37" y1="244.8" x2="590.37" y2="249.5" stroke="#000" stroke-width="1.4"/>
<line x1="594.36" y1="244.8" x2="594.36" y2="249.5" stroke="#000" stroke-width="1.4"/>
<line x1="597.92" y1="244.8" x2="597.92" y2="252.6" stroke="#000" stroke-width="1.75"/>
<line x1="621.39" y1="244.8" x2="621.39" y2="249.5" stroke="#000" stroke-width="1.4"/>
<line x1="635.11" y1="244.8" x2="635.11" y2="249.5" stroke="#000" stroke-width="1.4"/>
<line x1="644.85" y1="244.8" x2="644.85" y2="249.5" stroke="#000" stroke-width="1.4"/>
<line x1="652.4" y1="244.8" x2="652.4" y2="249.5" stroke="#000" stroke-width="1.4"/>
<line x1="658.57" y1="244.8" x2="658.57" y2="249.5" stroke="#000" stroke-width="1.4"/>
<line x1="663.79" y1="244.8" x2="663.79" y2="249.5" stroke="#000" stroke-width="1.4"/>
<line x1="668.31" y1="244.8" x2="668.31" y2="249.5" stroke="#000" stroke-width="1.4"/>
<line x1="672.3" y1="244.8" x2="672.3" y2="249.5" stroke="#000" stroke-width="1.4"/>
<line x1="675.86" y1="244.8" x2="675.86" y2="252.6" stroke="#000" stroke-width="1.75"/>
<line x1="699.32" y1="244.8" x2="699.32" y2="249.5" stroke="#000" stroke-width="1.4"/>
<line x1="713.05" y1="244.8" x2="713.05" y2="249.5" stroke="#000" stroke-width="1.4"/>
<line x1="722.79" y1="244.8" x2="722.79" y2="249.5" stroke="#000" stroke-width="1.4"/>
<line x1="730.34" y1="244.8" x2="730.34" y2="249.5" stroke="#000" stroke-width="1.4"/>
<line x1="736.51" y1="244.8" x2="736.51" y2="249.5" stroke="#000" stroke-width="1.4"/>
<line x1="741.73" y1="244.8" x2="741.73" y2="249.5" stroke="#000" stroke-width="1.4"/>
<line x1="746.25" y1="244.8" x2="746.25" y2="249.5" stroke="#000" stroke-width="1.4"/>
<line x1="750.23" y1="244.8" x2="750.23" y2="249.5" stroke="#000" stroke-width="1.4"/>
<line x1="753.8" y1="244.8" x2="753.8" y2="252.6" stroke="#000" stroke-width="1.75"/>
<line x1="465.51" y1="305.5" x2="465.51" y2="310.2" stroke="#000" stroke-width="1.4"/>
<line x1="479.24" y1="305.5" x2="479.24" y2="310.2" stroke="#000" stroke-width="1.4"/>
<line x1="488.97" y1="305.5" x2="488.97" y2="310.2" stroke="#000" stroke-width="1.4"/>
<line x1="496.53" y1="305.5" x2="496.53" y2="310.2" stroke="#000" stroke-width="1.4"/>
<line x1="502.7" y1="305.5" x2="502.7" y2="310.2" stroke="#000" stroke-width="1.4"/>
<line x1="507.91" y1="305.5" x2="507.91" y2="310.2" stroke="#000" stroke-width="1.4"/>
<line x1="512.43" y1="305.5" x2="512.43" y2="310.2" stroke="#000" stroke-width="1.4"/>
<line x1="516.42" y1="305.5" x2="516.42" y2="310.2" stroke="#000" stroke-width="1.4"/>
<line x1="519.99" y1="305.5" x2="519.99" y2="313.3" stroke="#000" stroke-width="1.75"/>
<line x1="543.45" y1="305.5" x2="543.45" y2="310.2" stroke="#000" stroke-width="1.4"/>
<line x1="557.17" y1="305.5" x2="557.17" y2="310.2" stroke="#000" stroke-width="1.4"/>
<line x1="566.91" y1="305.5" x2="566.91" y2="310.2" stroke="#000" stroke-width="1.4"/>
<line x1="574.46" y1="305.5" x2="574.46" y2="310.2" stroke="#000" stroke-width="1.4"/>
<line x1="580.63" y1="305.5" x2="580.63" y2="310.2" stroke="#000" stroke-width="1.4"/>
<line x1="585.85" y1="305.5" x2="585.85" y2="310.2" stroke="#000" stroke-width="1.4"/>
<line x1="590.37" y1="305.5" x2="590.37" y2="310.2" stroke="#000" stroke-width="1.4"/>
<line x1="594.36" y1="305.5" x2="594.36" y2="310.2" stroke="#000" stroke-width="1.4"/>
<line x1="597.92" y1="305.5" x2="597.92" y2="313.3" stroke="#000" stroke-width="1.75"/>
<line x1="621.39" y1="305.5" x2="621.39" y2="310.2" stroke="#000" stroke-width="1.4"/>
<line x1="635.11" y1="305.5" x2="635.11" y2="310.2" stroke="#000" stroke-width="1.4"/>
<line x1="644.85" y1="305.5" x2="644.85" y2="310.2" stroke="#000" stroke-width="1.4"/>
<line x1="652.4" y1="305.5" x2="652.4" y2="310.2" stroke="#000" stroke-width="1.4"/>
<line x1="658.57" y1="305.5" x2="658.57" y2="310.2" stroke="#000" stroke-width="1.4"/>
<line x1="663.79" y1="305.5" x2="663.79" y2="310.2" stroke="#000" stroke-width="1.4"/>
<line x1="668.31" y1="305.5" x2="668.31" y2="310.2" stroke="#000" stroke-width="1.4"/>
<line x1="672.3" y1="305.5" x2="672.3" y2="310.2" stroke="#000" stroke-width="1.4"/>
<line x1="675.86" y1="305.5" x2="675.86" y2="313.3" stroke="#000" stroke-width="1.75"/>
<line x1="699.32" y1="305.5" x2="699.32" y2="310.2" stroke="#000" stroke-width="1.4"/>
<line x1="713.05" y1="305.5" x2="713.05" y2="310.2" stroke="#000" stroke-width="1.4"/>
<line x1="722.79" y1="305.5" x2="722.79" y2="310.2" stroke="#000" stroke-width="1.4"/>
<line x1="730.34" y1="305.5" x2="730.34" y2="310.2" stroke="#000" stroke-width="1.4"/>
<line x1="736.51" y1="305.5" x2="736.51" y2="310.2" stroke="#000" stroke-width="1.4"/>
<line x1="741.73" y1="305.5" x2="741.73" y2="310.2" stroke="#000" stroke-width="1.4"/>
<line x1="746.25" y1="305.5" x2="746.25" y2="310.2" stroke="#000" stroke-width="1.4"/>
<line x1="750.23" y1="305.5" x2="750.23" y2="310.2" stroke="#000" stroke-width="1.4"/>
<line x1="753.8" y1="305.5" x2="753.8" y2="313.3" stroke="#000" stroke-width="1.75"/>
<line x1="434.25" y1="75.8" x2="442.05" y2="75.8" stroke="#000" stroke-width="1.75"/>
<text transform="translate(431.45,80.5) scale(1.15,1)" font-size="13.2" text-anchor="end">0.8</text>
<line x1="434.25" y1="143.3" x2="442.05" y2="143.3" stroke="#000" stroke-width="1.75"/>
<text transform="translate(431.45,148) scale(1.15,1)" font-size="13.2" text-anchor="end">0.6</text>
<line x1="434.25" y1="210.8" x2="442.05" y2="210.8" stroke="#000" stroke-width="1.75"/>
<text transform="translate(431.45,215.5) scale(1.15,1)" font-size="13.2" text-anchor="end">0.4</text>
<line x1="434.25" y1="8.3" x2="442.05" y2="8.3" stroke="#000" stroke-width="1.75"/>
<text transform="translate(431.45,13) scale(1.15,1)" font-size="13.2" text-anchor="end">1</text>
<line x1="434.25" y1="255.3" x2="442.05" y2="255.3" stroke="#000" stroke-width="1.75"/>
<text transform="translate(431.45,260) scale(1.15,1)" font-size="13.2" text-anchor="end">0.02</text>
<line x1="434.25" y1="275.5" x2="442.05" y2="275.5" stroke="#000" stroke-width="1.75"/>
<text transform="translate(431.45,280.2) scale(1.15,1)" font-size="13.2" text-anchor="end">0</text>
<line x1="434.25" y1="295.7" x2="442.05" y2="295.7" stroke="#000" stroke-width="1.75"/>
<text transform="translate(431.45,300.4) scale(1.15,1)" font-size="13.2" text-anchor="end">-0.02</text>
<text transform="translate(524.19,325.7) scale(1.1,1)" font-size="13.2" text-anchor="end">10</text>
<text transform="translate(525.19,320.5) scale(1.1,1)" font-size="9.3">0</text>
<text transform="translate(602.12,325.7) scale(1.1,1)" font-size="13.2" text-anchor="end">10</text>
<text transform="translate(603.12,320.5) scale(1.1,1)" font-size="9.3">1</text>
<text transform="translate(680.06,325.7) scale(1.1,1)" font-size="13.2" text-anchor="end">10</text>
<text transform="translate(681.06,320.5) scale(1.1,1)" font-size="9.3">2</text>
<text transform="translate(758,325.7) scale(1.1,1)" font-size="13.2" text-anchor="end">10</text>
<text transform="translate(759,320.5) scale(1.1,1)" font-size="9.3">3</text>
<text transform="translate(598.12,345) scale(1.09,1)" font-size="19" text-anchor="middle">w (<tspan font-style="italic">μ</tspan>s)</text>
<g transform="rotate(-90)">
<text x="-192.6" y="17.5" font-size="21">&lt;</text>
<text x="-175.2" y="16.3" font-size="18.5" font-style="italic">F</text>
<text x="-162.6" y="20" font-size="16.5" font-style="italic">exc</text>
<text x="-138.6" y="16.3" font-size="18.5">(</text>
<text x="-131.9" y="16.3" font-size="18.5" font-style="italic">W</text>
<text x="-114.2" y="16.3" font-size="18.5">)</text>
<text x="-102.6" y="16.6" font-size="21">&gt;</text>
<text x="-84.2" y="19.2" font-size="14" font-style="italic">norm</text>
</g>
<text transform="translate(17.4,274.4) rotate(-90)" font-size="20" text-anchor="middle">Residuals</text>
<rect x="235" y="5.4" width="77.2" height="86.9" fill="#fff" stroke="#383838" stroke-width="0.95"/>
<line x1="238.6" y1="92.3" x2="238.6" y2="94.7" stroke="#333" stroke-width="0.9"/>
<text x="238.6" y="102.4" font-size="8.7" text-anchor="middle" fill="#333">0</text>
<line x1="273.6" y1="92.3" x2="273.6" y2="94.7" stroke="#333" stroke-width="0.9"/>
<text x="273.6" y="102.4" font-size="8.7" text-anchor="middle" fill="#333">5</text>
<line x1="308.6" y1="92.3" x2="308.6" y2="94.7" stroke="#333" stroke-width="0.9"/>
<text x="308.6" y="102.4" font-size="8.7" text-anchor="middle" fill="#333">10</text>
<line x1="232.6" y1="79.6" x2="235" y2="79.6" stroke="#333" stroke-width="0.9"/>
<text x="231.4" y="82.8" font-size="8.7" text-anchor="end" fill="#333">1200</text>
<line x1="232.6" y1="54.5" x2="235" y2="54.5" stroke="#333" stroke-width="0.9"/>
<text x="231.4" y="57.7" font-size="8.7" text-anchor="end" fill="#333">1400</text>
<line x1="232.6" y1="29.4" x2="235" y2="29.4" stroke="#333" stroke-width="0.9"/>
<text x="231.4" y="32.6" font-size="8.7" text-anchor="end" fill="#333">1600</text>
<line x1="312.2" y1="84.4" x2="314.6" y2="84.4" stroke="#333" stroke-width="0.9"/>
<text x="315.6" y="87.6" font-size="8.7" fill="#333">0.3</text>
<line x1="312.2" y1="62.2" x2="314.6" y2="62.2" stroke="#333" stroke-width="0.9"/>
<text x="315.6" y="65.4" font-size="8.7" fill="#333">0.9</text>
<line x1="312.2" y1="40" x2="314.6" y2="40" stroke="#333" stroke-width="0.9"/>
<text x="315.6" y="43.2" font-size="8.7" fill="#333">1.5</text>
<line x1="312.2" y1="17.8" x2="314.6" y2="17.8" stroke="#333" stroke-width="0.9"/>
<text x="315.6" y="21" font-size="8.7" fill="#333">2.1</text>
<circle cx="238.6" cy="85.6" r="2.15" fill="#1f77b4"/>
<path d="M238.6 76.8 L240.9 81.17 L236.3 81.17 Z" fill="#1f77b4"/>
<circle cx="242.1" cy="82.8" r="2.15" fill="#ff7f0e"/>
<path d="M242.1 70.7 L244.4 75.07 L239.8 75.07 Z" fill="#ff7f0e"/>
<circle cx="259.6" cy="67.7" r="2.15" fill="#2ca02c"/>
<path d="M259.6 53.4 L261.9 57.77 L257.3 57.77 Z" fill="#2ca02c"/>
<circle cx="287.6" cy="43.5" r="2.15" fill="#d62728"/>
<path d="M287.6 31.5 L289.9 35.87 L285.3 35.87 Z" fill="#d62728"/>
<circle cx="308.6" cy="25.3" r="2.15" fill="#9467bd"/>
<path d="M308.6 12.4 L310.9 16.77 L306.3 16.77 Z" fill="#9467bd"/>
<text x="273.6" y="112.9" font-size="10.4" text-anchor="middle" fill="#333">KI [mM]</text>
<text transform="translate(207.3,50.5) rotate(-90) scale(1.17,1)" font-size="9.6" text-anchor="middle" fill="#333"><tspan font-style="italic">k</tspan><tspan font-size="6.8" font-style="italic" dy="1.8">ISC</tspan><tspan dy="-1.8"> [</tspan><tspan font-style="italic">μ</tspan>s<tspan font-size="6.8" dy="-3.5">−1</tspan><tspan dy="3.5">]: o</tspan></text>
<text transform="translate(337.2,49.3) rotate(-90) scale(1.17,1)" font-size="9.6" text-anchor="middle" fill="#333"><tspan font-style="italic">k</tspan><tspan font-size="6.8" font-style="italic" dy="1.8">T</tspan><tspan dy="-1.8"> [</tspan><tspan font-style="italic">μ</tspan>s<tspan font-size="6.8" dy="-3.5">−1</tspan><tspan dy="3.5">]: Δ</tspan></text>
<rect x="608.5" y="5.5" width="77.1" height="86.7" fill="#fff" stroke="#383838" stroke-width="0.95"/>
<line x1="612.2" y1="92.2" x2="612.2" y2="94.6" stroke="#333" stroke-width="0.9"/>
<text x="612.2" y="102.3" font-size="8.7" text-anchor="middle" fill="#333">0</text>
<line x1="647.2" y1="92.2" x2="647.2" y2="94.6" stroke="#333" stroke-width="0.9"/>
<text x="647.2" y="102.3" font-size="8.7" text-anchor="middle" fill="#333">200</text>
<line x1="682.2" y1="92.2" x2="682.2" y2="94.6" stroke="#333" stroke-width="0.9"/>
<text x="682.2" y="102.3" font-size="8.7" text-anchor="middle" fill="#333">400</text>
<line x1="606.1" y1="81.8" x2="608.5" y2="81.8" stroke="#333" stroke-width="0.9"/>
<text x="604.9" y="85" font-size="8.7" text-anchor="end" fill="#333">1200</text>
<line x1="606.1" y1="61.47" x2="608.5" y2="61.47" stroke="#333" stroke-width="0.9"/>
<text x="604.9" y="64.67" font-size="8.7" text-anchor="end" fill="#333">1600</text>
<line x1="606.1" y1="41.14" x2="608.5" y2="41.14" stroke="#333" stroke-width="0.9"/>
<text x="604.9" y="44.34" font-size="8.7" text-anchor="end" fill="#333">2000</text>
<line x1="606.1" y1="20.8" x2="608.5" y2="20.8" stroke="#333" stroke-width="0.9"/>
<text x="604.9" y="24" font-size="8.7" text-anchor="end" fill="#333">2400</text>
<line x1="685.6" y1="79.2" x2="688" y2="79.2" stroke="#333" stroke-width="0.9"/>
<text x="689" y="82.4" font-size="8.7" fill="#333">0.8</text>
<line x1="685.6" y1="58" x2="688" y2="58" stroke="#333" stroke-width="0.9"/>
<text x="689" y="61.2" font-size="8.7" fill="#333">1.6</text>
<line x1="685.6" y1="36.8" x2="688" y2="36.8" stroke="#333" stroke-width="0.9"/>
<text x="689" y="40" font-size="8.7" fill="#333">2.4</text>
<line x1="685.6" y1="15.6" x2="688" y2="15.6" stroke="#333" stroke-width="0.9"/>
<text x="689" y="18.8" font-size="8.7" fill="#333">3.2</text>
<circle cx="612.2" cy="84.5" r="2.15" fill="#1f77b4"/>
<path d="M612.2 76 L614.5 80.37 L609.9 80.37 Z" fill="#1f77b4"/>
<circle cx="618.85" cy="77.6" r="2.15" fill="#ff7f0e"/>
<path d="M618.85 68.6 L621.15 72.97 L616.55 72.97 Z" fill="#ff7f0e"/>
<circle cx="629.7" cy="67.6" r="2.15" fill="#2ca02c"/>
<path d="M629.7 58.4 L632 62.77 L627.4 62.77 Z" fill="#2ca02c"/>
<circle cx="647.2" cy="50.3" r="2.15" fill="#d62728"/>
<path d="M647.2 41.2 L649.5 45.57 L644.9 45.57 Z" fill="#d62728"/>
<circle cx="682.2" cy="16.4" r="2.15" fill="#9467bd"/>
<path d="M682.2 5.5 L684.5 9.87 L679.9 9.87 Z" fill="#9467bd"/>
<text x="647.2" y="112.8" font-size="10.4" text-anchor="middle" fill="#333">KI [mM]</text>
<text transform="translate(580.3,47.7) rotate(-90) scale(1.17,1)" font-size="9.6" text-anchor="middle" fill="#333"><tspan font-style="italic">k</tspan><tspan font-size="6.8" font-style="italic" dy="1.8">ISC</tspan><tspan dy="-1.8"> [</tspan><tspan font-style="italic">μ</tspan>s<tspan font-size="6.8" dy="-3.5">−1</tspan><tspan dy="3.5">]: o</tspan></text>
<text transform="translate(712.6,48.9) rotate(-90) scale(1.17,1)" font-size="9.6" text-anchor="middle" fill="#333"><tspan font-style="italic">k</tspan><tspan font-size="6.8" font-style="italic" dy="1.8">T</tspan><tspan dy="-1.8"> [</tspan><tspan font-style="italic">μ</tspan>s<tspan font-size="6.8" dy="-3.5">−1</tspan><tspan dy="3.5">]: Δ</tspan></text>
<path transform="translate(345.052,37.35) scale(0.01984,-0.02017)" d="M1094 272H492L397 0H10L563 1493H1022L1575 0H1188ZM588 549H997L793 1143Z" fill="#000"/>
<path transform="translate(718.752,37.2) scale(0.021,-0.0202)" d="M786 915Q877 915 924.0 955.0Q971 995 971 1073Q971 1150 924.0 1190.5Q877 1231 786 1231H573V915ZM799 262Q915 262 973.5 311.0Q1032 360 1032 459Q1032 556 974.0 604.5Q916 653 799 653H573V262ZM1157 799Q1281 763 1349.0 666.0Q1417 569 1417 428Q1417 212 1271.0 106.0Q1125 0 827 0H188V1493H766Q1077 1493 1216.5 1399.0Q1356 1305 1356 1098Q1356 989 1305.0 912.5Q1254 836 1157 799Z" fill="#000"/>
</svg>
</body></html>
